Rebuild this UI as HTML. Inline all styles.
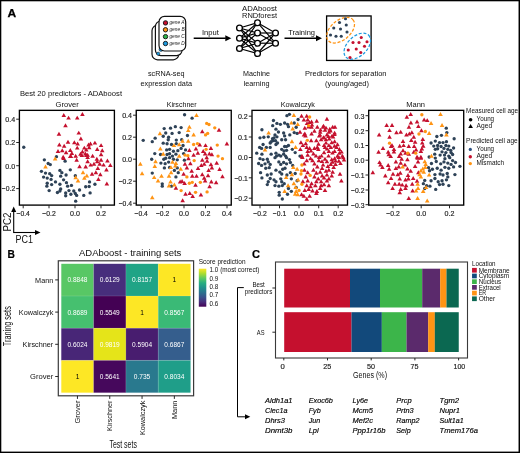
<!DOCTYPE html>
<html lang="en"><head><meta charset="utf-8"><title>Figure</title>
<style>
html,body{margin:0;padding:0;background:#fff;}
body{width:520px;height:453px;overflow:hidden;font-family:"Liberation Sans", "DejaVu Sans", sans-serif;}
svg{display:block;}
</style></head><body>
<svg width="520" height="453" viewBox="0 0 520 453" font-family='"Liberation Sans", "DejaVu Sans", sans-serif' fill="#111">
<rect x="0" y="0" width="520" height="453" fill="#fff"/>
<rect x="0" y="0" width="520" height="1.3" fill="#000"/>
<rect x="0" y="451.6" width="520" height="1.4" fill="#000"/>
<rect x="0" y="0" width="1.3" height="453" fill="#000"/>
<rect x="518.55" y="0" width="1.45" height="453" fill="#000"/>
<text x="7.4" y="17" font-size="10.8" font-weight="bold" textLength="8.7" lengthAdjust="spacingAndGlyphs" fill="#000" stroke="#000" stroke-width="0.25">A</text>
<rect x="152" y="25.2" width="26.7" height="34.6" rx="5.5" ry="5.5" fill="#fff" stroke="#111" stroke-width="1.2"/>
<rect x="155.4" y="21.0" width="26.7" height="34.6" rx="5.5" ry="5.5" fill="#fff" stroke="#111" stroke-width="1.2"/>
<circle cx="158.2" cy="53.7" r="1.6" fill="#1e9be0" stroke="#111" stroke-width="0.5"/>
<circle cx="161" cy="49.4" r="2" fill="#1e9be0" stroke="#111" stroke-width="0.5"/>
<rect x="159" y="16.4" width="26.7" height="34.6" rx="5.5" ry="5.5" fill="#fff" stroke="#111" stroke-width="1.2"/>
<circle cx="165.5" cy="22.9" r="2.2" fill="#c5102e" stroke="#111" stroke-width="0.9"/>
<text x="169.4" y="24.4" font-size="4.8" font-style="italic" textLength="15.2" lengthAdjust="spacingAndGlyphs" fill="#222">gene A</text>
<circle cx="165.5" cy="29.77" r="2.2" fill="#ff9414" stroke="#111" stroke-width="0.9"/>
<text x="169.4" y="31.27" font-size="4.8" font-style="italic" textLength="15.2" lengthAdjust="spacingAndGlyphs" fill="#222">gene B</text>
<circle cx="165.5" cy="36.64" r="2.2" fill="#2db34a" stroke="#111" stroke-width="0.9"/>
<text x="169.4" y="38.14" font-size="4.8" font-style="italic" textLength="15.2" lengthAdjust="spacingAndGlyphs" fill="#222">gene C</text>
<circle cx="165.5" cy="43.51" r="2.2" fill="#1e9be0" stroke="#111" stroke-width="0.9"/>
<text x="169.4" y="45.01" font-size="4.8" font-style="italic" textLength="15.2" lengthAdjust="spacingAndGlyphs" fill="#222">gene D</text>
<line x1="193.7" y1="38.2" x2="225.8" y2="38.2" stroke="#000" stroke-width="1.35"/>
<path d="M231.3 38.2L225.3 35.2L225.3 41.2Z" fill="#000"/>
<text x="202" y="35" font-size="7.5" textLength="16.8" lengthAdjust="spacingAndGlyphs">Input</text>
<line x1="284.5" y1="38.2" x2="316.5" y2="38.2" stroke="#000" stroke-width="1.35"/>
<path d="M322 38.2L316 35.2L316 41.2Z" fill="#000"/>
<text x="288.2" y="35" font-size="7.5" textLength="26.8" lengthAdjust="spacingAndGlyphs">Training</text>
<line x1="239.5" y1="28" x2="257.5" y2="22.7" stroke="#000" stroke-width="1.2"/>
<line x1="239.5" y1="28" x2="257.5" y2="33" stroke="#000" stroke-width="1.2"/>
<line x1="239.5" y1="28" x2="257.5" y2="43.2" stroke="#000" stroke-width="1.2"/>
<line x1="239.5" y1="28" x2="257.5" y2="53.5" stroke="#000" stroke-width="1.2"/>
<line x1="239.5" y1="38.2" x2="257.5" y2="22.7" stroke="#000" stroke-width="1.2"/>
<line x1="239.5" y1="38.2" x2="257.5" y2="33" stroke="#000" stroke-width="1.2"/>
<line x1="239.5" y1="38.2" x2="257.5" y2="43.2" stroke="#000" stroke-width="1.2"/>
<line x1="239.5" y1="38.2" x2="257.5" y2="53.5" stroke="#000" stroke-width="1.2"/>
<line x1="239.5" y1="48.5" x2="257.5" y2="22.7" stroke="#000" stroke-width="1.2"/>
<line x1="239.5" y1="48.5" x2="257.5" y2="33" stroke="#000" stroke-width="1.2"/>
<line x1="239.5" y1="48.5" x2="257.5" y2="43.2" stroke="#000" stroke-width="1.2"/>
<line x1="239.5" y1="48.5" x2="257.5" y2="53.5" stroke="#000" stroke-width="1.2"/>
<line x1="257.5" y1="22.7" x2="275.5" y2="33" stroke="#000" stroke-width="1.2"/>
<line x1="257.5" y1="22.7" x2="275.5" y2="43.2" stroke="#000" stroke-width="1.2"/>
<line x1="257.5" y1="33" x2="275.5" y2="33" stroke="#000" stroke-width="1.2"/>
<line x1="257.5" y1="33" x2="275.5" y2="43.2" stroke="#000" stroke-width="1.2"/>
<line x1="257.5" y1="43.2" x2="275.5" y2="33" stroke="#000" stroke-width="1.2"/>
<line x1="257.5" y1="43.2" x2="275.5" y2="43.2" stroke="#000" stroke-width="1.2"/>
<line x1="257.5" y1="53.5" x2="275.5" y2="33" stroke="#000" stroke-width="1.2"/>
<line x1="257.5" y1="53.5" x2="275.5" y2="43.2" stroke="#000" stroke-width="1.2"/>
<circle cx="239.5" cy="28" r="2.9" fill="#fff" stroke="#000" stroke-width="1.35"/>
<circle cx="239.5" cy="38.2" r="2.9" fill="#fff" stroke="#000" stroke-width="1.35"/>
<circle cx="239.5" cy="48.5" r="2.9" fill="#fff" stroke="#000" stroke-width="1.35"/>
<circle cx="257.5" cy="22.7" r="2.9" fill="#fff" stroke="#000" stroke-width="1.35"/>
<circle cx="257.5" cy="33" r="2.9" fill="#fff" stroke="#000" stroke-width="1.35"/>
<circle cx="257.5" cy="43.2" r="2.9" fill="#fff" stroke="#000" stroke-width="1.35"/>
<circle cx="257.5" cy="53.5" r="2.9" fill="#fff" stroke="#000" stroke-width="1.35"/>
<circle cx="275.5" cy="33" r="2.9" fill="#fff" stroke="#000" stroke-width="1.35"/>
<circle cx="275.5" cy="43.2" r="2.9" fill="#fff" stroke="#000" stroke-width="1.35"/>
<text x="242" y="10.6" font-size="7.5" textLength="35" lengthAdjust="spacingAndGlyphs">ADAboost</text>
<text x="242" y="18.0" font-size="7.5" textLength="35" lengthAdjust="spacingAndGlyphs">RNDforest</text>
<rect x="326.6" y="15.95" width="44.5" height="44.5" fill="#fff" stroke="#000" stroke-width="1.3"/>
<ellipse cx="340.6" cy="30.2" rx="16.2" ry="9.8" fill="none" stroke="#ff9414" stroke-width="1.25" stroke-dasharray="3 1.7" transform="rotate(-40 340.6 30.2)"/>
<ellipse cx="357.3" cy="46.2" rx="15.8" ry="9.8" fill="none" stroke="#1e9be0" stroke-width="1.25" stroke-dasharray="3 1.7" transform="rotate(-44 357.3 46.2)"/>
<circle cx="345.50" cy="18.75" r="1.55" fill="#2e4257"/>
<circle cx="339.50" cy="22.50" r="1.55" fill="#2e4257"/>
<circle cx="333.75" cy="28.00" r="1.55" fill="#2e4257"/>
<circle cx="346.25" cy="25.00" r="1.55" fill="#2e4257"/>
<circle cx="340.50" cy="29.00" r="1.55" fill="#2e4257"/>
<circle cx="347.00" cy="32.00" r="1.55" fill="#2e4257"/>
<circle cx="330.50" cy="35.00" r="1.55" fill="#2e4257"/>
<circle cx="336.00" cy="36.25" r="1.55" fill="#2e4257"/>
<circle cx="341.25" cy="36.25" r="1.55" fill="#2e4257"/>
<circle cx="361.25" cy="37.50" r="1.55" fill="#c5102e"/>
<circle cx="353.00" cy="42.50" r="1.55" fill="#c5102e"/>
<circle cx="359.00" cy="42.50" r="1.55" fill="#c5102e"/>
<circle cx="367.00" cy="41.75" r="1.55" fill="#c5102e"/>
<circle cx="364.50" cy="46.25" r="1.55" fill="#c5102e"/>
<circle cx="348.25" cy="50.00" r="1.55" fill="#c5102e"/>
<circle cx="356.25" cy="49.00" r="1.55" fill="#c5102e"/>
<circle cx="360.75" cy="52.50" r="1.55" fill="#c5102e"/>
<circle cx="350.00" cy="57.50" r="1.55" fill="#c5102e"/>
<text x="148" y="76.2" font-size="7.5" textLength="36.5" lengthAdjust="spacingAndGlyphs">scRNA-seq</text>
<text x="140.5" y="85.8" font-size="7.5" textLength="51.5" lengthAdjust="spacingAndGlyphs">expression data</text>
<text x="243" y="76.2" font-size="7.5" textLength="27" lengthAdjust="spacingAndGlyphs">Machine</text>
<text x="243.7" y="85.8" font-size="7.5" textLength="25.8" lengthAdjust="spacingAndGlyphs">learning</text>
<text x="305" y="76.2" font-size="7.5" textLength="81.5" lengthAdjust="spacingAndGlyphs">Predictors for separation</text>
<text x="325" y="85.8" font-size="7.5" textLength="44" lengthAdjust="spacingAndGlyphs">(young/aged)</text>
<text x="20" y="95.6" font-size="7.5" textLength="102" lengthAdjust="spacingAndGlyphs">Best 20 predictors - ADAboost</text>
<rect x="19.4" y="110.35" width="95.0" height="94.75" fill="#fff" stroke="#000" stroke-width="1.35"/>
<text x="55.5" y="106.8" font-size="7.5" textLength="23.2" lengthAdjust="spacingAndGlyphs">Grover</text>
<line x1="16.2" y1="119.2" x2="19.4" y2="119.2" stroke="#1c1c1c" stroke-width="0.95"/>
<text x="5.3" y="122.0" font-size="7.9" textLength="9.9" lengthAdjust="spacingAndGlyphs" fill="#1c1c1c" stroke="#1c1c1c" stroke-width="0.18">0.4</text>
<line x1="16.2" y1="142.5" x2="19.4" y2="142.5" stroke="#1c1c1c" stroke-width="0.95"/>
<text x="5.3" y="145.3" font-size="7.9" textLength="9.9" lengthAdjust="spacingAndGlyphs" fill="#1c1c1c" stroke="#1c1c1c" stroke-width="0.18">0.2</text>
<line x1="16.2" y1="165.7" x2="19.4" y2="165.7" stroke="#1c1c1c" stroke-width="0.95"/>
<text x="5.3" y="168.5" font-size="7.9" textLength="9.9" lengthAdjust="spacingAndGlyphs" fill="#1c1c1c" stroke="#1c1c1c" stroke-width="0.18">0.0</text>
<line x1="16.2" y1="188.6" x2="19.4" y2="188.6" stroke="#1c1c1c" stroke-width="0.95"/>
<text x="1.8" y="191.4" font-size="7.9" textLength="13.4" lengthAdjust="spacingAndGlyphs" fill="#1c1c1c" stroke="#1c1c1c" stroke-width="0.18">−0.2</text>
<line x1="23.2" y1="205.1" x2="23.2" y2="208.29999999999998" stroke="#1c1c1c" stroke-width="0.95"/>
<text x="16.5" y="216.2" font-size="7.9" textLength="13.4" lengthAdjust="spacingAndGlyphs" fill="#1c1c1c" stroke="#1c1c1c" stroke-width="0.18">−0.4</text>
<line x1="49" y1="205.1" x2="49" y2="208.29999999999998" stroke="#1c1c1c" stroke-width="0.95"/>
<text x="42.3" y="216.2" font-size="7.9" textLength="13.4" lengthAdjust="spacingAndGlyphs" fill="#1c1c1c" stroke="#1c1c1c" stroke-width="0.18">−0.2</text>
<line x1="75" y1="205.1" x2="75" y2="208.29999999999998" stroke="#1c1c1c" stroke-width="0.95"/>
<text x="70.05" y="216.2" font-size="7.9" textLength="9.9" lengthAdjust="spacingAndGlyphs" fill="#1c1c1c" stroke="#1c1c1c" stroke-width="0.18">0.0</text>
<line x1="101" y1="205.1" x2="101" y2="208.29999999999998" stroke="#1c1c1c" stroke-width="0.95"/>
<text x="96.05" y="216.2" font-size="7.9" textLength="9.9" lengthAdjust="spacingAndGlyphs" fill="#1c1c1c" stroke="#1c1c1c" stroke-width="0.18">0.2</text>
<circle cx="23.77" cy="147.23" r="1.68" fill="#2e4257"/>
<circle cx="56.46" cy="156.65" r="1.68" fill="#2e4257"/>
<circle cx="44.35" cy="159.81" r="1.68" fill="#2e4257"/>
<circle cx="48.19" cy="163.46" r="1.68" fill="#2e4257"/>
<circle cx="50.31" cy="164.62" r="1.68" fill="#2e4257"/>
<circle cx="65.12" cy="161.15" r="1.68" fill="#2e4257"/>
<circle cx="41.46" cy="171.35" r="1.68" fill="#2e4257"/>
<circle cx="45.50" cy="173.08" r="1.68" fill="#2e4257"/>
<circle cx="49.73" cy="173.65" r="1.68" fill="#2e4257"/>
<circle cx="51.65" cy="175.58" r="1.68" fill="#2e4257"/>
<circle cx="43.58" cy="177.12" r="1.68" fill="#2e4257"/>
<circle cx="47.23" cy="178.08" r="1.68" fill="#2e4257"/>
<circle cx="51.08" cy="179.42" r="1.68" fill="#2e4257"/>
<circle cx="47.23" cy="183.27" r="1.68" fill="#2e4257"/>
<circle cx="51.65" cy="184.62" r="1.68" fill="#2e4257"/>
<circle cx="46.85" cy="186.15" r="1.68" fill="#2e4257"/>
<circle cx="59.92" cy="170.38" r="1.68" fill="#2e4257"/>
<circle cx="61.85" cy="172.69" r="1.68" fill="#2e4257"/>
<circle cx="60.69" cy="176.15" r="1.68" fill="#2e4257"/>
<circle cx="66.08" cy="175.00" r="1.68" fill="#2e4257"/>
<circle cx="70.31" cy="169.81" r="1.68" fill="#2e4257"/>
<circle cx="75.31" cy="175.77" r="1.68" fill="#2e4257"/>
<circle cx="63.58" cy="179.81" r="1.68" fill="#2e4257"/>
<circle cx="55.50" cy="181.92" r="1.68" fill="#2e4257"/>
<circle cx="59.92" cy="184.23" r="1.68" fill="#2e4257"/>
<circle cx="66.46" cy="182.69" r="1.68" fill="#2e4257"/>
<circle cx="67.62" cy="186.15" r="1.68" fill="#2e4257"/>
<circle cx="71.46" cy="185.38" r="1.68" fill="#2e4257"/>
<circle cx="85.69" cy="186.73" r="1.68" fill="#2e4257"/>
<circle cx="89.15" cy="186.54" r="1.68" fill="#2e4257"/>
<circle cx="89.54" cy="181.92" r="1.68" fill="#2e4257"/>
<circle cx="94.92" cy="184.23" r="1.68" fill="#2e4257"/>
<circle cx="49.15" cy="190.58" r="1.68" fill="#2e4257"/>
<circle cx="57.42" cy="192.50" r="1.68" fill="#2e4257"/>
<circle cx="60.69" cy="189.04" r="1.68" fill="#2e4257"/>
<circle cx="59.92" cy="190.96" r="1.68" fill="#2e4257"/>
<circle cx="65.69" cy="192.88" r="1.68" fill="#2e4257"/>
<circle cx="65.69" cy="195.77" r="1.68" fill="#2e4257"/>
<circle cx="68.96" cy="190.58" r="1.68" fill="#2e4257"/>
<circle cx="70.88" cy="194.23" r="1.68" fill="#2e4257"/>
<circle cx="73.77" cy="190.96" r="1.68" fill="#2e4257"/>
<circle cx="75.31" cy="193.46" r="1.68" fill="#2e4257"/>
<circle cx="76.65" cy="195.38" r="1.68" fill="#2e4257"/>
<circle cx="79.54" cy="190.00" r="1.68" fill="#2e4257"/>
<circle cx="83.77" cy="195.38" r="1.68" fill="#2e4257"/>
<circle cx="90.12" cy="192.88" r="1.68" fill="#2e4257"/>
<circle cx="75.69" cy="201.15" r="1.68" fill="#2e4257"/>
<path d="M63.77 112.95L66.06 116.93L61.48 116.93Z" fill="#c5102e"/>
<path d="M68.58 115.64L70.88 119.62L66.28 119.62Z" fill="#c5102e"/>
<path d="M77.23 115.64L79.53 119.62L74.94 119.62Z" fill="#c5102e"/>
<path d="M82.42 111.99L84.72 115.97L80.12 115.97Z" fill="#c5102e"/>
<path d="M65.50 123.33L67.80 127.31L63.20 127.31Z" fill="#c5102e"/>
<path d="M58.96 131.79L61.26 135.77L56.66 135.77Z" fill="#c5102e"/>
<path d="M78.77 130.64L81.06 134.62L76.47 134.62Z" fill="#c5102e"/>
<path d="M80.88 136.41L83.17 140.39L78.58 140.39Z" fill="#c5102e"/>
<path d="M59.35 142.56L61.65 146.54L57.05 146.54Z" fill="#c5102e"/>
<path d="M64.15 143.72L66.45 147.70L61.86 147.70Z" fill="#c5102e"/>
<path d="M68.00 139.87L70.30 143.85L65.70 143.85Z" fill="#c5102e"/>
<path d="M74.35 140.26L76.64 144.24L72.05 144.24Z" fill="#c5102e"/>
<path d="M77.62 141.41L79.92 145.39L75.33 145.39Z" fill="#c5102e"/>
<path d="M94.92 140.64L97.22 144.62L92.62 144.62Z" fill="#c5102e"/>
<path d="M90.50 141.41L92.80 145.39L88.20 145.39Z" fill="#c5102e"/>
<path d="M88.58 142.56L90.88 146.54L86.28 146.54Z" fill="#c5102e"/>
<path d="M101.08 143.14L103.38 147.12L98.78 147.12Z" fill="#c5102e"/>
<path d="M58.00 149.10L60.30 153.08L55.70 153.08Z" fill="#c5102e"/>
<path d="M62.23 148.33L64.52 152.31L59.93 152.31Z" fill="#c5102e"/>
<path d="M66.08 150.26L68.38 154.24L63.78 154.24Z" fill="#c5102e"/>
<path d="M70.31 147.95L72.61 151.93L68.02 151.93Z" fill="#c5102e"/>
<path d="M71.85 151.02L74.14 155.00L69.55 155.00Z" fill="#c5102e"/>
<path d="M77.23 145.64L79.53 149.62L74.94 149.62Z" fill="#c5102e"/>
<path d="M84.35 145.64L86.64 149.62L82.05 149.62Z" fill="#c5102e"/>
<path d="M89.15 145.26L91.45 149.24L86.86 149.24Z" fill="#c5102e"/>
<path d="M86.27 147.56L88.56 151.54L83.97 151.54Z" fill="#c5102e"/>
<path d="M82.42 149.49L84.72 153.47L80.12 153.47Z" fill="#c5102e"/>
<path d="M80.50 151.79L82.80 155.77L78.20 155.77Z" fill="#c5102e"/>
<path d="M85.31 151.41L87.61 155.39L83.02 155.39Z" fill="#c5102e"/>
<path d="M87.62 152.76L89.92 156.74L85.33 156.74Z" fill="#c5102e"/>
<path d="M97.23 146.99L99.53 150.97L94.94 150.97Z" fill="#c5102e"/>
<path d="M102.23 148.33L104.53 152.31L99.94 152.31Z" fill="#c5102e"/>
<path d="M101.08 152.18L103.38 156.16L98.78 156.16Z" fill="#c5102e"/>
<path d="M92.62 153.72L94.92 157.70L90.33 157.70Z" fill="#c5102e"/>
<path d="M75.69 153.72L77.98 157.70L73.39 157.70Z" fill="#c5102e"/>
<path d="M70.31 154.10L72.61 158.08L68.02 158.08Z" fill="#c5102e"/>
<path d="M63.19 154.68L65.48 158.66L60.89 158.66Z" fill="#c5102e"/>
<path d="M63.58 155.91L65.88 159.89L61.28 159.89Z" fill="#c5102e"/>
<path d="M70.88 153.99L73.17 157.97L68.58 157.97Z" fill="#c5102e"/>
<path d="M76.65 157.83L78.95 161.81L74.36 161.81Z" fill="#c5102e"/>
<path d="M79.54 164.18L81.84 168.16L77.25 168.16Z" fill="#c5102e"/>
<path d="M81.85 153.02L84.14 157.00L79.55 157.00Z" fill="#c5102e"/>
<path d="M86.27 153.02L88.56 157.00L83.97 157.00Z" fill="#c5102e"/>
<path d="M87.62 154.95L89.92 158.93L85.33 158.93Z" fill="#c5102e"/>
<path d="M96.85 156.87L99.14 160.85L94.55 160.85Z" fill="#c5102e"/>
<path d="M101.08 157.83L103.38 161.81L98.78 161.81Z" fill="#c5102e"/>
<path d="M97.23 159.18L99.53 163.16L94.94 163.16Z" fill="#c5102e"/>
<path d="M87.62 159.18L89.92 163.16L85.33 163.16Z" fill="#c5102e"/>
<path d="M93.96 161.68L96.25 165.66L91.66 165.66Z" fill="#c5102e"/>
<path d="M90.69 162.64L92.98 166.62L88.39 166.62Z" fill="#c5102e"/>
<path d="M85.69 164.56L87.98 168.54L83.39 168.54Z" fill="#c5102e"/>
<path d="M99.73 161.68L102.03 165.66L97.44 165.66Z" fill="#c5102e"/>
<path d="M103.58 162.64L105.88 166.62L101.28 166.62Z" fill="#c5102e"/>
<path d="M107.42 158.41L109.72 162.39L105.12 162.39Z" fill="#c5102e"/>
<path d="M110.31 163.02L112.61 167.00L108.02 167.00Z" fill="#c5102e"/>
<path d="M97.81 166.10L100.11 170.08L95.52 170.08Z" fill="#c5102e"/>
<path d="M106.46 167.45L108.75 171.43L104.16 171.43Z" fill="#c5102e"/>
<path d="M95.88 170.33L98.17 174.31L93.58 174.31Z" fill="#c5102e"/>
<path d="M92.04 171.87L94.34 175.85L89.75 175.85Z" fill="#c5102e"/>
<path d="M100.31 172.26L102.61 176.24L98.02 176.24Z" fill="#c5102e"/>
<path d="M98.38 177.06L100.67 181.04L96.08 181.04Z" fill="#c5102e"/>
<path d="M106.85 181.49L109.14 185.47L104.55 185.47Z" fill="#c5102e"/>
<path d="M55.12 156.49L57.41 160.47L52.82 160.47Z" fill="#ff9414"/>
<path d="M45.50 164.56L47.80 168.54L43.20 168.54Z" fill="#ff9414"/>
<path d="M83.00 170.33L85.30 174.31L80.70 174.31Z" fill="#ff9414"/>
<path d="M86.85 173.41L89.14 177.39L84.55 177.39Z" fill="#ff9414"/>
<path d="M84.35 175.72L86.64 179.70L82.05 179.70Z" fill="#ff9414"/>
<path d="M75.69 175.33L77.98 179.31L73.39 179.31Z" fill="#ff9414"/>
<path d="M78.00 178.60L80.30 182.58L75.70 182.58Z" fill="#ff9414"/>
<rect x="136.25" y="110.35" width="95.0" height="94.75" fill="#fff" stroke="#000" stroke-width="1.35"/>
<text x="166.7" y="106.8" font-size="7.5" textLength="30.0" lengthAdjust="spacingAndGlyphs">Kirschner</text>
<line x1="133.05" y1="115.2" x2="136.25" y2="115.2" stroke="#1c1c1c" stroke-width="0.95"/>
<text x="122.15" y="118.0" font-size="7.9" textLength="9.9" lengthAdjust="spacingAndGlyphs" fill="#1c1c1c" stroke="#1c1c1c" stroke-width="0.18">0.4</text>
<line x1="133.05" y1="137.2" x2="136.25" y2="137.2" stroke="#1c1c1c" stroke-width="0.95"/>
<text x="122.15" y="140.0" font-size="7.9" textLength="9.9" lengthAdjust="spacingAndGlyphs" fill="#1c1c1c" stroke="#1c1c1c" stroke-width="0.18">0.2</text>
<line x1="133.05" y1="159.2" x2="136.25" y2="159.2" stroke="#1c1c1c" stroke-width="0.95"/>
<text x="122.15" y="162.0" font-size="7.9" textLength="9.9" lengthAdjust="spacingAndGlyphs" fill="#1c1c1c" stroke="#1c1c1c" stroke-width="0.18">0.0</text>
<line x1="133.05" y1="181.2" x2="136.25" y2="181.2" stroke="#1c1c1c" stroke-width="0.95"/>
<text x="118.65" y="184.0" font-size="7.9" textLength="13.4" lengthAdjust="spacingAndGlyphs" fill="#1c1c1c" stroke="#1c1c1c" stroke-width="0.18">−0.2</text>
<line x1="133.05" y1="203.2" x2="136.25" y2="203.2" stroke="#1c1c1c" stroke-width="0.95"/>
<text x="118.65" y="206.0" font-size="7.9" textLength="13.4" lengthAdjust="spacingAndGlyphs" fill="#1c1c1c" stroke="#1c1c1c" stroke-width="0.18">−0.4</text>
<line x1="141.2" y1="205.1" x2="141.2" y2="208.29999999999998" stroke="#1c1c1c" stroke-width="0.95"/>
<text x="134.5" y="216.2" font-size="7.9" textLength="13.4" lengthAdjust="spacingAndGlyphs" fill="#1c1c1c" stroke="#1c1c1c" stroke-width="0.18">−0.4</text>
<line x1="162.6" y1="205.1" x2="162.6" y2="208.29999999999998" stroke="#1c1c1c" stroke-width="0.95"/>
<text x="155.9" y="216.2" font-size="7.9" textLength="13.4" lengthAdjust="spacingAndGlyphs" fill="#1c1c1c" stroke="#1c1c1c" stroke-width="0.18">−0.2</text>
<line x1="184" y1="205.1" x2="184" y2="208.29999999999998" stroke="#1c1c1c" stroke-width="0.95"/>
<text x="179.05" y="216.2" font-size="7.9" textLength="9.9" lengthAdjust="spacingAndGlyphs" fill="#1c1c1c" stroke="#1c1c1c" stroke-width="0.18">0.0</text>
<line x1="205.5" y1="205.1" x2="205.5" y2="208.29999999999998" stroke="#1c1c1c" stroke-width="0.95"/>
<text x="200.55" y="216.2" font-size="7.9" textLength="9.9" lengthAdjust="spacingAndGlyphs" fill="#1c1c1c" stroke="#1c1c1c" stroke-width="0.18">0.2</text>
<line x1="227" y1="205.1" x2="227" y2="208.29999999999998" stroke="#1c1c1c" stroke-width="0.95"/>
<text x="222.05" y="216.2" font-size="7.9" textLength="9.9" lengthAdjust="spacingAndGlyphs" fill="#1c1c1c" stroke="#1c1c1c" stroke-width="0.18">0.4</text>
<circle cx="184.58" cy="114.73" r="1.68" fill="#2e4257"/>
<circle cx="192.08" cy="118.19" r="1.68" fill="#2e4257"/>
<circle cx="164.19" cy="128.58" r="1.68" fill="#2e4257"/>
<circle cx="170.54" cy="128.19" r="1.68" fill="#2e4257"/>
<circle cx="175.35" cy="126.65" r="1.68" fill="#2e4257"/>
<circle cx="181.12" cy="127.62" r="1.68" fill="#2e4257"/>
<circle cx="165.73" cy="133.00" r="1.68" fill="#2e4257"/>
<circle cx="172.08" cy="133.38" r="1.68" fill="#2e4257"/>
<circle cx="179.19" cy="132.62" r="1.68" fill="#2e4257"/>
<circle cx="187.46" cy="135.50" r="1.68" fill="#2e4257"/>
<circle cx="163.23" cy="136.27" r="1.68" fill="#2e4257"/>
<circle cx="168.62" cy="137.23" r="1.68" fill="#2e4257"/>
<circle cx="168.23" cy="139.73" r="1.68" fill="#2e4257"/>
<circle cx="155.15" cy="138.19" r="1.68" fill="#2e4257"/>
<circle cx="152.27" cy="141.65" r="1.68" fill="#2e4257"/>
<circle cx="143.23" cy="140.31" r="1.68" fill="#2e4257"/>
<circle cx="176.31" cy="140.12" r="1.68" fill="#2e4257"/>
<circle cx="181.69" cy="139.73" r="1.68" fill="#2e4257"/>
<circle cx="163.23" cy="143.19" r="1.68" fill="#2e4257"/>
<circle cx="167.08" cy="143.77" r="1.68" fill="#2e4257"/>
<circle cx="171.50" cy="144.54" r="1.68" fill="#2e4257"/>
<circle cx="176.31" cy="143.58" r="1.68" fill="#2e4257"/>
<circle cx="183.04" cy="145.50" r="1.68" fill="#2e4257"/>
<circle cx="181.12" cy="148.38" r="1.68" fill="#2e4257"/>
<circle cx="177.85" cy="150.69" r="1.68" fill="#2e4257"/>
<circle cx="173.42" cy="151.27" r="1.68" fill="#2e4257"/>
<circle cx="169.58" cy="149.35" r="1.68" fill="#2e4257"/>
<circle cx="166.69" cy="149.92" r="1.68" fill="#2e4257"/>
<circle cx="185.54" cy="149.92" r="1.68" fill="#2e4257"/>
<circle cx="154.77" cy="153.58" r="1.68" fill="#2e4257"/>
<circle cx="160.54" cy="154.54" r="1.68" fill="#2e4257"/>
<circle cx="167.08" cy="154.54" r="1.68" fill="#2e4257"/>
<circle cx="169.58" cy="153.77" r="1.68" fill="#2e4257"/>
<circle cx="175.92" cy="154.15" r="1.68" fill="#2e4257"/>
<circle cx="183.62" cy="153.58" r="1.68" fill="#2e4257"/>
<circle cx="172.46" cy="156.08" r="1.68" fill="#2e4257"/>
<circle cx="151.69" cy="159.23" r="1.68" fill="#2e4257"/>
<circle cx="163.81" cy="159.23" r="1.68" fill="#2e4257"/>
<circle cx="165.73" cy="158.27" r="1.68" fill="#2e4257"/>
<circle cx="169.58" cy="157.69" r="1.68" fill="#2e4257"/>
<circle cx="173.42" cy="159.23" r="1.68" fill="#2e4257"/>
<circle cx="177.27" cy="159.81" r="1.68" fill="#2e4257"/>
<circle cx="184.38" cy="160.19" r="1.68" fill="#2e4257"/>
<circle cx="160.92" cy="163.08" r="1.68" fill="#2e4257"/>
<circle cx="165.15" cy="163.65" r="1.68" fill="#2e4257"/>
<circle cx="168.62" cy="162.12" r="1.68" fill="#2e4257"/>
<circle cx="164.38" cy="167.88" r="1.68" fill="#2e4257"/>
<circle cx="169.58" cy="167.50" r="1.68" fill="#2e4257"/>
<circle cx="174.38" cy="170.38" r="1.68" fill="#2e4257"/>
<circle cx="177.27" cy="167.88" r="1.68" fill="#2e4257"/>
<circle cx="152.27" cy="173.08" r="1.68" fill="#2e4257"/>
<circle cx="178.23" cy="172.69" r="1.68" fill="#2e4257"/>
<circle cx="175.92" cy="176.92" r="1.68" fill="#2e4257"/>
<circle cx="162.27" cy="183.85" r="1.68" fill="#2e4257"/>
<circle cx="162.27" cy="186.15" r="1.68" fill="#2e4257"/>
<circle cx="171.50" cy="186.15" r="1.68" fill="#2e4257"/>
<path d="M202.27 129.29L204.56 133.27L199.98 133.27Z" fill="#c5102e"/>
<path d="M219.00 127.76L221.29 131.74L216.71 131.74Z" fill="#c5102e"/>
<path d="M226.88 141.41L229.17 145.39L224.59 145.39Z" fill="#c5102e"/>
<path d="M199.77 142.56L202.06 146.54L197.48 146.54Z" fill="#c5102e"/>
<path d="M205.54 143.14L207.83 147.12L203.25 147.12Z" fill="#c5102e"/>
<path d="M210.92 146.02L213.21 150.00L208.62 150.00Z" fill="#c5102e"/>
<path d="M195.92 146.60L198.21 150.58L193.62 150.58Z" fill="#c5102e"/>
<path d="M189.38 147.95L191.67 151.93L187.09 151.93Z" fill="#c5102e"/>
<path d="M197.85 150.83L200.14 154.81L195.56 154.81Z" fill="#c5102e"/>
<path d="M203.23 148.91L205.52 152.89L200.94 152.89Z" fill="#c5102e"/>
<path d="M205.15 151.41L207.44 155.39L202.86 155.39Z" fill="#c5102e"/>
<path d="M209.38 151.41L211.67 155.39L207.09 155.39Z" fill="#c5102e"/>
<path d="M211.88 152.37L214.17 156.35L209.59 156.35Z" fill="#c5102e"/>
<path d="M193.62 152.76L195.91 156.74L191.33 156.74Z" fill="#c5102e"/>
<path d="M188.42 156.29L190.71 160.27L186.12 160.27Z" fill="#c5102e"/>
<path d="M184.96 161.68L187.25 165.66L182.67 165.66Z" fill="#c5102e"/>
<path d="M190.35 161.29L192.64 165.27L188.06 165.27Z" fill="#c5102e"/>
<path d="M186.88 165.52L189.17 169.50L184.59 169.50Z" fill="#c5102e"/>
<path d="M183.62 171.87L185.91 175.85L181.33 175.85Z" fill="#c5102e"/>
<path d="M191.69 168.79L193.98 172.77L189.40 172.77Z" fill="#c5102e"/>
<path d="M192.27 173.79L194.56 177.77L189.98 177.77Z" fill="#c5102e"/>
<path d="M196.50 173.79L198.79 177.77L194.21 177.77Z" fill="#c5102e"/>
<path d="M198.04 165.91L200.33 169.89L195.75 169.89Z" fill="#c5102e"/>
<path d="M201.31 163.02L203.60 167.00L199.02 167.00Z" fill="#c5102e"/>
<path d="M204.19 161.68L206.48 165.66L201.90 165.66Z" fill="#c5102e"/>
<path d="M207.08 158.79L209.38 162.77L204.79 162.77Z" fill="#c5102e"/>
<path d="M202.27 157.83L204.56 161.81L199.98 161.81Z" fill="#c5102e"/>
<path d="M206.69 155.33L208.98 159.31L204.40 159.31Z" fill="#c5102e"/>
<path d="M210.92 162.26L213.21 166.24L208.62 166.24Z" fill="#c5102e"/>
<path d="M216.69 160.72L218.98 164.70L214.40 164.70Z" fill="#c5102e"/>
<path d="M211.88 165.52L214.17 169.50L209.59 169.50Z" fill="#c5102e"/>
<path d="M208.62 168.02L210.91 172.00L206.33 172.00Z" fill="#c5102e"/>
<path d="M219.58 167.06L221.88 171.04L217.29 171.04Z" fill="#c5102e"/>
<path d="M202.27 172.26L204.56 176.24L199.98 176.24Z" fill="#c5102e"/>
<path d="M208.04 173.22L210.33 177.20L205.75 177.20Z" fill="#c5102e"/>
<path d="M222.46 174.18L224.75 178.16L220.17 178.16Z" fill="#c5102e"/>
<path d="M205.15 178.60L207.44 182.58L202.86 182.58Z" fill="#c5102e"/>
<path d="M211.31 179.56L213.60 183.54L209.02 183.54Z" fill="#c5102e"/>
<path d="M216.12 180.33L218.41 184.31L213.83 184.31Z" fill="#c5102e"/>
<path d="M195.54 182.83L197.83 186.81L193.25 186.81Z" fill="#c5102e"/>
<path d="M209.58 184.37L211.88 188.35L207.29 188.35Z" fill="#c5102e"/>
<path d="M180.15 179.56L182.44 183.54L177.86 183.54Z" fill="#c5102e"/>
<path d="M182.08 178.99L184.38 182.97L179.79 182.97Z" fill="#c5102e"/>
<path d="M184.58 180.91L186.88 184.89L182.29 184.89Z" fill="#c5102e"/>
<path d="M175.92 185.72L178.21 189.70L173.62 189.70Z" fill="#c5102e"/>
<path d="M204.19 175.72L206.48 179.70L201.90 179.70Z" fill="#c5102e"/>
<path d="M185.54 191.87L187.83 195.85L183.25 195.85Z" fill="#c5102e"/>
<path d="M189.77 191.10L192.06 195.08L187.48 195.08Z" fill="#c5102e"/>
<path d="M192.65 193.99L194.94 197.97L190.36 197.97Z" fill="#c5102e"/>
<path d="M200.92 192.45L203.21 196.43L198.62 196.43Z" fill="#c5102e"/>
<path d="M182.65 198.22L184.94 202.20L180.36 202.20Z" fill="#c5102e"/>
<path d="M196.50 112.95L198.79 116.93L194.21 116.93Z" fill="#ff9414"/>
<path d="M189.38 124.87L191.67 128.85L187.09 128.85Z" fill="#ff9414"/>
<path d="M188.23 128.14L190.52 132.12L185.94 132.12Z" fill="#ff9414"/>
<path d="M193.62 132.56L195.91 136.54L191.33 136.54Z" fill="#ff9414"/>
<path d="M159.96 131.22L162.25 135.20L157.67 135.20Z" fill="#ff9414"/>
<path d="M188.23 138.72L190.52 142.70L185.94 142.70Z" fill="#ff9414"/>
<path d="M182.46 138.72L184.75 142.70L180.17 142.70Z" fill="#ff9414"/>
<path d="M174.00 143.14L176.29 147.12L171.71 147.12Z" fill="#ff9414"/>
<path d="M179.19 142.18L181.48 146.16L176.90 146.16Z" fill="#ff9414"/>
<path d="M160.35 146.60L162.64 150.58L158.06 150.58Z" fill="#ff9414"/>
<path d="M163.23 151.79L165.52 155.77L160.94 155.77Z" fill="#ff9414"/>
<path d="M179.19 153.72L181.48 157.70L176.90 157.70Z" fill="#ff9414"/>
<circle cx="206.69" cy="123.38" r="1.68" fill="#ff9414"/>
<circle cx="209.00" cy="124.54" r="1.68" fill="#ff9414"/>
<circle cx="214.77" cy="127.81" r="1.68" fill="#ff9414"/>
<circle cx="207.65" cy="133.38" r="1.68" fill="#ff9414"/>
<circle cx="205.54" cy="134.92" r="1.68" fill="#ff9414"/>
<circle cx="197.46" cy="143.58" r="1.68" fill="#ff9414"/>
<circle cx="193.62" cy="144.54" r="1.68" fill="#ff9414"/>
<circle cx="217.27" cy="145.12" r="1.68" fill="#ff9414"/>
<circle cx="206.12" cy="149.35" r="1.68" fill="#ff9414"/>
<circle cx="218.04" cy="156.08" r="1.68" fill="#ff9414"/>
<circle cx="187.85" cy="155.69" r="1.68" fill="#ff9414"/>
<circle cx="184.96" cy="155.12" r="1.68" fill="#ff9414"/>
<path d="M140.35 161.68L142.64 165.66L138.06 165.66Z" fill="#ff9414"/>
<path d="M155.54 159.37L157.83 163.35L153.25 163.35Z" fill="#ff9414"/>
<path d="M154.77 163.99L157.06 167.97L152.48 167.97Z" fill="#ff9414"/>
<path d="M142.08 171.29L144.38 175.27L139.79 175.27Z" fill="#ff9414"/>
<path d="M172.46 159.76L174.75 163.74L170.17 163.74Z" fill="#ff9414"/>
<path d="M175.92 161.10L178.21 165.08L173.62 165.08Z" fill="#ff9414"/>
<path d="M175.35 163.60L177.64 167.58L173.06 167.58Z" fill="#ff9414"/>
<path d="M170.92 165.14L173.21 169.12L168.62 169.12Z" fill="#ff9414"/>
<path d="M180.73 166.87L183.02 170.85L178.44 170.85Z" fill="#ff9414"/>
<path d="M171.12 170.33L173.41 174.31L168.83 174.31Z" fill="#ff9414"/>
<path d="M161.50 173.79L163.79 177.77L159.21 177.77Z" fill="#ff9414"/>
<path d="M169.00 173.79L171.29 177.77L166.71 177.77Z" fill="#ff9414"/>
<path d="M154.19 175.14L156.48 179.12L151.90 179.12Z" fill="#ff9414"/>
<path d="M158.04 178.60L160.33 182.58L155.75 182.58Z" fill="#ff9414"/>
<path d="M170.54 179.56L172.83 183.54L168.25 183.54Z" fill="#ff9414"/>
<path d="M169.00 183.41L171.29 187.39L166.71 187.39Z" fill="#ff9414"/>
<path d="M174.38 182.45L176.67 186.43L172.09 186.43Z" fill="#ff9414"/>
<circle cx="194.19" cy="160.58" r="1.68" fill="#ff9414"/>
<circle cx="222.46" cy="158.65" r="1.68" fill="#ff9414"/>
<circle cx="186.88" cy="176.92" r="1.68" fill="#ff9414"/>
<circle cx="192.27" cy="182.31" r="1.68" fill="#ff9414"/>
<circle cx="189.38" cy="183.27" r="1.68" fill="#ff9414"/>
<circle cx="200.35" cy="182.31" r="1.68" fill="#ff9414"/>
<circle cx="181.12" cy="190.58" r="1.68" fill="#ff9414"/>
<circle cx="195.54" cy="192.31" r="1.68" fill="#ff9414"/>
<circle cx="207.08" cy="191.92" r="1.68" fill="#ff9414"/>
<path d="M152.27 195.33L154.56 199.31L149.98 199.31Z" fill="#ff9414"/>
<rect x="252" y="110.35" width="95.5" height="94.75" fill="#fff" stroke="#000" stroke-width="1.35"/>
<text x="280.7" y="106.8" font-size="7.5" textLength="34.3" lengthAdjust="spacingAndGlyphs">Kowalczyk</text>
<line x1="248.8" y1="116.2" x2="252" y2="116.2" stroke="#1c1c1c" stroke-width="0.95"/>
<text x="237.9" y="119.0" font-size="7.9" textLength="9.9" lengthAdjust="spacingAndGlyphs" fill="#1c1c1c" stroke="#1c1c1c" stroke-width="0.18">0.2</text>
<line x1="248.8" y1="137" x2="252" y2="137" stroke="#1c1c1c" stroke-width="0.95"/>
<text x="237.9" y="139.8" font-size="7.9" textLength="9.9" lengthAdjust="spacingAndGlyphs" fill="#1c1c1c" stroke="#1c1c1c" stroke-width="0.18">0.1</text>
<line x1="248.8" y1="157.5" x2="252" y2="157.5" stroke="#1c1c1c" stroke-width="0.95"/>
<text x="237.9" y="160.3" font-size="7.9" textLength="9.9" lengthAdjust="spacingAndGlyphs" fill="#1c1c1c" stroke="#1c1c1c" stroke-width="0.18">0.0</text>
<line x1="248.8" y1="177.8" x2="252" y2="177.8" stroke="#1c1c1c" stroke-width="0.95"/>
<text x="234.4" y="180.6" font-size="7.9" textLength="13.4" lengthAdjust="spacingAndGlyphs" fill="#1c1c1c" stroke="#1c1c1c" stroke-width="0.18">−0.1</text>
<line x1="248.8" y1="198.2" x2="252" y2="198.2" stroke="#1c1c1c" stroke-width="0.95"/>
<text x="234.4" y="201.0" font-size="7.9" textLength="13.4" lengthAdjust="spacingAndGlyphs" fill="#1c1c1c" stroke="#1c1c1c" stroke-width="0.18">−0.2</text>
<line x1="260" y1="205.1" x2="260" y2="208.29999999999998" stroke="#1c1c1c" stroke-width="0.95"/>
<text x="253.3" y="216.2" font-size="7.9" textLength="13.4" lengthAdjust="spacingAndGlyphs" fill="#1c1c1c" stroke="#1c1c1c" stroke-width="0.18">−0.2</text>
<line x1="279.5" y1="205.1" x2="279.5" y2="208.29999999999998" stroke="#1c1c1c" stroke-width="0.95"/>
<text x="272.8" y="216.2" font-size="7.9" textLength="13.4" lengthAdjust="spacingAndGlyphs" fill="#1c1c1c" stroke="#1c1c1c" stroke-width="0.18">−0.1</text>
<line x1="299" y1="205.1" x2="299" y2="208.29999999999998" stroke="#1c1c1c" stroke-width="0.95"/>
<text x="294.05" y="216.2" font-size="7.9" textLength="9.9" lengthAdjust="spacingAndGlyphs" fill="#1c1c1c" stroke="#1c1c1c" stroke-width="0.18">0.0</text>
<line x1="318.7" y1="205.1" x2="318.7" y2="208.29999999999998" stroke="#1c1c1c" stroke-width="0.95"/>
<text x="313.75" y="216.2" font-size="7.9" textLength="9.9" lengthAdjust="spacingAndGlyphs" fill="#1c1c1c" stroke="#1c1c1c" stroke-width="0.18">0.1</text>
<line x1="338.2" y1="205.1" x2="338.2" y2="208.29999999999998" stroke="#1c1c1c" stroke-width="0.95"/>
<text x="333.25" y="216.2" font-size="7.9" textLength="9.9" lengthAdjust="spacingAndGlyphs" fill="#1c1c1c" stroke="#1c1c1c" stroke-width="0.18">0.2</text>
<circle cx="286.92" cy="115.69" r="1.68" fill="#2e4257"/>
<circle cx="289.42" cy="114.35" r="1.68" fill="#2e4257"/>
<circle cx="273.46" cy="120.50" r="1.68" fill="#2e4257"/>
<circle cx="276.92" cy="123.38" r="1.68" fill="#2e4257"/>
<circle cx="280.38" cy="124.35" r="1.68" fill="#2e4257"/>
<circle cx="284.62" cy="123.00" r="1.68" fill="#2e4257"/>
<circle cx="287.50" cy="124.35" r="1.68" fill="#2e4257"/>
<circle cx="288.46" cy="126.65" r="1.68" fill="#2e4257"/>
<circle cx="272.69" cy="125.69" r="1.68" fill="#2e4257"/>
<circle cx="261.92" cy="129.73" r="1.68" fill="#2e4257"/>
<circle cx="275.96" cy="129.15" r="1.68" fill="#2e4257"/>
<circle cx="278.46" cy="132.04" r="1.68" fill="#2e4257"/>
<circle cx="283.65" cy="133.00" r="1.68" fill="#2e4257"/>
<circle cx="294.23" cy="132.62" r="1.68" fill="#2e4257"/>
<circle cx="297.12" cy="133.38" r="1.68" fill="#2e4257"/>
<circle cx="296.15" cy="127.23" r="1.68" fill="#2e4257"/>
<circle cx="298.08" cy="119.54" r="1.68" fill="#2e4257"/>
<circle cx="294.23" cy="123.00" r="1.68" fill="#2e4257"/>
<circle cx="260.00" cy="137.81" r="1.68" fill="#2e4257"/>
<circle cx="263.85" cy="137.23" r="1.68" fill="#2e4257"/>
<circle cx="268.27" cy="136.85" r="1.68" fill="#2e4257"/>
<circle cx="275.00" cy="134.92" r="1.68" fill="#2e4257"/>
<circle cx="274.04" cy="137.81" r="1.68" fill="#2e4257"/>
<circle cx="276.92" cy="136.85" r="1.68" fill="#2e4257"/>
<circle cx="284.62" cy="135.88" r="1.68" fill="#2e4257"/>
<circle cx="289.81" cy="134.92" r="1.68" fill="#2e4257"/>
<circle cx="285.58" cy="139.73" r="1.68" fill="#2e4257"/>
<circle cx="281.73" cy="139.73" r="1.68" fill="#2e4257"/>
<circle cx="273.08" cy="140.69" r="1.68" fill="#2e4257"/>
<circle cx="270.19" cy="143.00" r="1.68" fill="#2e4257"/>
<circle cx="263.08" cy="144.54" r="1.68" fill="#2e4257"/>
<circle cx="259.62" cy="147.42" r="1.68" fill="#2e4257"/>
<circle cx="261.54" cy="148.38" r="1.68" fill="#2e4257"/>
<circle cx="266.35" cy="147.42" r="1.68" fill="#2e4257"/>
<circle cx="275.96" cy="144.54" r="1.68" fill="#2e4257"/>
<circle cx="270.19" cy="147.42" r="1.68" fill="#2e4257"/>
<circle cx="284.62" cy="146.46" r="1.68" fill="#2e4257"/>
<circle cx="288.46" cy="145.50" r="1.68" fill="#2e4257"/>
<circle cx="281.73" cy="149.35" r="1.68" fill="#2e4257"/>
<circle cx="286.54" cy="150.31" r="1.68" fill="#2e4257"/>
<circle cx="292.31" cy="149.35" r="1.68" fill="#2e4257"/>
<circle cx="295.19" cy="152.62" r="1.68" fill="#2e4257"/>
<circle cx="256.73" cy="153.19" r="1.68" fill="#2e4257"/>
<circle cx="261.92" cy="154.15" r="1.68" fill="#2e4257"/>
<circle cx="271.15" cy="154.15" r="1.68" fill="#2e4257"/>
<circle cx="275.96" cy="153.19" r="1.68" fill="#2e4257"/>
<circle cx="278.85" cy="155.12" r="1.68" fill="#2e4257"/>
<circle cx="283.65" cy="154.15" r="1.68" fill="#2e4257"/>
<circle cx="285.58" cy="156.08" r="1.68" fill="#2e4257"/>
<circle cx="280.77" cy="156.08" r="1.68" fill="#2e4257"/>
<circle cx="276.54" cy="156.08" r="1.68" fill="#2e4257"/>
<circle cx="300.00" cy="156.08" r="1.68" fill="#2e4257"/>
<circle cx="260.00" cy="158.65" r="1.68" fill="#2e4257"/>
<circle cx="263.08" cy="159.62" r="1.68" fill="#2e4257"/>
<circle cx="267.31" cy="159.23" r="1.68" fill="#2e4257"/>
<circle cx="275.00" cy="157.69" r="1.68" fill="#2e4257"/>
<circle cx="286.54" cy="157.69" r="1.68" fill="#2e4257"/>
<circle cx="289.42" cy="159.62" r="1.68" fill="#2e4257"/>
<circle cx="258.65" cy="163.46" r="1.68" fill="#2e4257"/>
<circle cx="261.54" cy="165.38" r="1.68" fill="#2e4257"/>
<circle cx="265.00" cy="163.85" r="1.68" fill="#2e4257"/>
<circle cx="268.27" cy="161.92" r="1.68" fill="#2e4257"/>
<circle cx="270.19" cy="164.42" r="1.68" fill="#2e4257"/>
<circle cx="265.77" cy="168.27" r="1.68" fill="#2e4257"/>
<circle cx="269.23" cy="167.69" r="1.68" fill="#2e4257"/>
<circle cx="260.58" cy="172.69" r="1.68" fill="#2e4257"/>
<circle cx="278.85" cy="161.92" r="1.68" fill="#2e4257"/>
<circle cx="280.77" cy="164.42" r="1.68" fill="#2e4257"/>
<circle cx="283.65" cy="162.50" r="1.68" fill="#2e4257"/>
<circle cx="286.54" cy="163.85" r="1.68" fill="#2e4257"/>
<circle cx="290.38" cy="162.50" r="1.68" fill="#2e4257"/>
<circle cx="292.69" cy="165.38" r="1.68" fill="#2e4257"/>
<circle cx="285.00" cy="168.27" r="1.68" fill="#2e4257"/>
<circle cx="282.69" cy="169.23" r="1.68" fill="#2e4257"/>
<circle cx="275.96" cy="170.19" r="1.68" fill="#2e4257"/>
<circle cx="279.81" cy="172.12" r="1.68" fill="#2e4257"/>
<circle cx="281.73" cy="174.04" r="1.68" fill="#2e4257"/>
<circle cx="286.92" cy="175.00" r="1.68" fill="#2e4257"/>
<circle cx="290.38" cy="172.69" r="1.68" fill="#2e4257"/>
<circle cx="295.19" cy="173.46" r="1.68" fill="#2e4257"/>
<circle cx="267.31" cy="175.00" r="1.68" fill="#2e4257"/>
<circle cx="271.15" cy="174.04" r="1.68" fill="#2e4257"/>
<circle cx="261.92" cy="177.88" r="1.68" fill="#2e4257"/>
<circle cx="270.19" cy="178.46" r="1.68" fill="#2e4257"/>
<circle cx="274.04" cy="179.81" r="1.68" fill="#2e4257"/>
<circle cx="275.96" cy="181.73" r="1.68" fill="#2e4257"/>
<circle cx="280.77" cy="178.85" r="1.68" fill="#2e4257"/>
<circle cx="281.73" cy="181.73" r="1.68" fill="#2e4257"/>
<circle cx="268.27" cy="181.73" r="1.68" fill="#2e4257"/>
<circle cx="267.31" cy="184.62" r="1.68" fill="#2e4257"/>
<circle cx="275.00" cy="185.58" r="1.68" fill="#2e4257"/>
<circle cx="278.85" cy="186.15" r="1.68" fill="#2e4257"/>
<circle cx="282.31" cy="185.58" r="1.68" fill="#2e4257"/>
<circle cx="284.23" cy="183.65" r="1.68" fill="#2e4257"/>
<circle cx="291.35" cy="178.85" r="1.68" fill="#2e4257"/>
<circle cx="288.46" cy="188.46" r="1.68" fill="#2e4257"/>
<circle cx="291.35" cy="191.35" r="1.68" fill="#2e4257"/>
<circle cx="296.15" cy="187.50" r="1.68" fill="#2e4257"/>
<circle cx="279.23" cy="192.31" r="1.68" fill="#2e4257"/>
<circle cx="279.23" cy="195.19" r="1.68" fill="#2e4257"/>
<circle cx="287.50" cy="194.23" r="1.68" fill="#2e4257"/>
<circle cx="282.31" cy="199.04" r="1.68" fill="#2e4257"/>
<circle cx="297.12" cy="180.77" r="1.68" fill="#2e4257"/>
<circle cx="272.50" cy="138.80" r="1.68" fill="#2e4257"/>
<circle cx="275.50" cy="140.80" r="1.68" fill="#2e4257"/>
<circle cx="277.50" cy="143.00" r="1.68" fill="#2e4257"/>
<circle cx="271.20" cy="141.80" r="1.68" fill="#2e4257"/>
<circle cx="286.50" cy="146.60" r="1.68" fill="#2e4257"/>
<circle cx="284.00" cy="151.00" r="1.68" fill="#2e4257"/>
<path d="M301.54 113.72L303.84 117.70L299.25 117.70Z" fill="#c5102e"/>
<path d="M306.73 113.72L309.03 117.70L304.44 117.70Z" fill="#c5102e"/>
<path d="M303.85 117.56L306.15 121.54L301.56 121.54Z" fill="#c5102e"/>
<path d="M307.69 117.56L309.99 121.54L305.39 121.54Z" fill="#c5102e"/>
<path d="M311.54 119.49L313.84 123.47L309.25 123.47Z" fill="#c5102e"/>
<path d="M316.73 118.72L319.03 122.70L314.44 122.70Z" fill="#c5102e"/>
<path d="M326.92 116.79L329.22 120.77L324.62 120.77Z" fill="#c5102e"/>
<path d="M304.81 125.83L307.11 129.81L302.51 129.81Z" fill="#c5102e"/>
<path d="M300.00 129.68L302.30 133.66L297.70 133.66Z" fill="#c5102e"/>
<path d="M304.81 131.60L307.11 135.58L302.51 135.58Z" fill="#c5102e"/>
<path d="M311.54 124.87L313.84 128.85L309.25 128.85Z" fill="#c5102e"/>
<path d="M317.31 124.87L319.61 128.85L315.01 128.85Z" fill="#c5102e"/>
<path d="M311.54 131.60L313.84 135.58L309.25 135.58Z" fill="#c5102e"/>
<path d="M314.42 128.72L316.72 132.70L312.12 132.70Z" fill="#c5102e"/>
<path d="M320.19 129.68L322.49 133.66L317.89 133.66Z" fill="#c5102e"/>
<path d="M323.08 124.87L325.38 128.85L320.78 128.85Z" fill="#c5102e"/>
<path d="M325.00 127.76L327.30 131.74L322.70 131.74Z" fill="#c5102e"/>
<path d="M332.69 124.87L334.99 128.85L330.39 128.85Z" fill="#c5102e"/>
<path d="M335.00 124.87L337.30 128.85L332.70 128.85Z" fill="#c5102e"/>
<path d="M328.85 129.68L331.15 133.66L326.56 133.66Z" fill="#c5102e"/>
<path d="M334.62 130.64L336.92 134.62L332.32 134.62Z" fill="#c5102e"/>
<path d="M329.81 126.79L332.11 130.77L327.51 130.77Z" fill="#c5102e"/>
<path d="M300.96 140.26L303.25 144.24L298.66 144.24Z" fill="#c5102e"/>
<path d="M305.77 141.22L308.06 145.20L303.47 145.20Z" fill="#c5102e"/>
<path d="M311.15 138.33L313.44 142.31L308.85 142.31Z" fill="#c5102e"/>
<path d="M316.35 138.33L318.65 142.31L314.06 142.31Z" fill="#c5102e"/>
<path d="M321.15 137.37L323.44 141.35L318.85 141.35Z" fill="#c5102e"/>
<path d="M324.04 135.45L326.34 139.43L321.75 139.43Z" fill="#c5102e"/>
<path d="M325.96 137.37L328.25 141.35L323.66 141.35Z" fill="#c5102e"/>
<path d="M329.23 136.41L331.53 140.39L326.94 140.39Z" fill="#c5102e"/>
<path d="M331.73 140.26L334.03 144.24L329.44 144.24Z" fill="#c5102e"/>
<path d="M334.62 139.29L336.92 143.27L332.32 143.27Z" fill="#c5102e"/>
<path d="M337.50 142.18L339.80 146.16L335.20 146.16Z" fill="#c5102e"/>
<path d="M302.88 143.14L305.18 147.12L300.58 147.12Z" fill="#c5102e"/>
<path d="M306.73 145.06L309.03 149.04L304.44 149.04Z" fill="#c5102e"/>
<path d="M309.62 146.02L311.92 150.00L307.32 150.00Z" fill="#c5102e"/>
<path d="M314.42 146.02L316.72 150.00L312.12 150.00Z" fill="#c5102e"/>
<path d="M317.31 145.06L319.61 149.04L315.01 149.04Z" fill="#c5102e"/>
<path d="M318.27 146.99L320.56 150.97L315.97 150.97Z" fill="#c5102e"/>
<path d="M324.04 143.14L326.34 147.12L321.75 147.12Z" fill="#c5102e"/>
<path d="M325.00 145.06L327.30 149.04L322.70 149.04Z" fill="#c5102e"/>
<path d="M328.85 143.14L331.15 147.12L326.56 147.12Z" fill="#c5102e"/>
<path d="M330.77 145.06L333.06 149.04L328.47 149.04Z" fill="#c5102e"/>
<path d="M336.54 145.06L338.84 149.04L334.25 149.04Z" fill="#c5102e"/>
<path d="M339.42 146.99L341.72 150.97L337.12 150.97Z" fill="#c5102e"/>
<path d="M300.38 146.99L302.68 150.97L298.08 150.97Z" fill="#c5102e"/>
<path d="M307.69 148.91L309.99 152.89L305.39 152.89Z" fill="#c5102e"/>
<path d="M313.46 151.41L315.75 155.39L311.16 155.39Z" fill="#c5102e"/>
<path d="M324.04 150.26L326.34 154.24L321.75 154.24Z" fill="#c5102e"/>
<path d="M328.85 148.91L331.15 152.89L326.56 152.89Z" fill="#c5102e"/>
<path d="M334.62 148.91L336.92 152.89L332.32 152.89Z" fill="#c5102e"/>
<path d="M339.42 150.83L341.72 154.81L337.12 154.81Z" fill="#c5102e"/>
<path d="M342.31 153.72L344.61 157.70L340.01 157.70Z" fill="#c5102e"/>
<path d="M337.50 153.72L339.80 157.70L335.20 157.70Z" fill="#c5102e"/>
<path d="M301.92 153.72L304.22 157.70L299.62 157.70Z" fill="#c5102e"/>
<path d="M307.69 152.76L309.99 156.74L305.39 156.74Z" fill="#c5102e"/>
<path d="M326.92 132.56L329.22 136.54L324.62 136.54Z" fill="#c5102e"/>
<path d="M319.23 133.52L321.53 137.50L316.94 137.50Z" fill="#c5102e"/>
<path d="M333.08 134.49L335.38 138.47L330.78 138.47Z" fill="#c5102e"/>
<path d="M302.31 154.95L304.61 158.93L300.01 158.93Z" fill="#c5102e"/>
<path d="M306.73 158.22L309.03 162.20L304.44 162.20Z" fill="#c5102e"/>
<path d="M310.58 156.29L312.88 160.27L308.28 160.27Z" fill="#c5102e"/>
<path d="M312.50 158.22L314.80 162.20L310.20 162.20Z" fill="#c5102e"/>
<path d="M319.23 154.95L321.53 158.93L316.94 158.93Z" fill="#c5102e"/>
<path d="M318.85 158.22L321.15 162.20L316.56 162.20Z" fill="#c5102e"/>
<path d="M325.00 156.87L327.30 160.85L322.70 160.85Z" fill="#c5102e"/>
<path d="M326.92 159.18L329.22 163.16L324.62 163.16Z" fill="#c5102e"/>
<path d="M331.73 157.26L334.03 161.24L329.44 161.24Z" fill="#c5102e"/>
<path d="M334.62 156.29L336.92 160.27L332.32 160.27Z" fill="#c5102e"/>
<path d="M338.85 154.95L341.15 158.93L336.56 158.93Z" fill="#c5102e"/>
<path d="M343.27 155.33L345.56 159.31L340.97 159.31Z" fill="#c5102e"/>
<path d="M338.85 158.79L341.15 162.77L336.56 162.77Z" fill="#c5102e"/>
<path d="M304.23 161.49L306.53 165.47L301.94 165.47Z" fill="#c5102e"/>
<path d="M314.42 161.49L316.72 165.47L312.12 165.47Z" fill="#c5102e"/>
<path d="M317.31 164.56L319.61 168.54L315.01 168.54Z" fill="#c5102e"/>
<path d="M323.08 162.64L325.38 166.62L320.78 166.62Z" fill="#c5102e"/>
<path d="M322.12 165.91L324.42 169.89L319.82 169.89Z" fill="#c5102e"/>
<path d="M327.88 163.99L330.18 167.97L325.58 167.97Z" fill="#c5102e"/>
<path d="M330.77 162.06L333.06 166.04L328.47 166.04Z" fill="#c5102e"/>
<path d="M333.65 164.95L335.94 168.93L331.35 168.93Z" fill="#c5102e"/>
<path d="M335.58 162.06L337.88 166.04L333.28 166.04Z" fill="#c5102e"/>
<path d="M304.42 167.83L306.72 171.81L302.12 171.81Z" fill="#c5102e"/>
<path d="M307.69 170.33L309.99 174.31L305.39 174.31Z" fill="#c5102e"/>
<path d="M313.46 167.83L315.75 171.81L311.16 171.81Z" fill="#c5102e"/>
<path d="M316.35 170.72L318.65 174.70L314.06 174.70Z" fill="#c5102e"/>
<path d="M320.19 169.76L322.49 173.74L317.89 173.74Z" fill="#c5102e"/>
<path d="M325.96 168.79L328.25 172.77L323.66 172.77Z" fill="#c5102e"/>
<path d="M328.85 167.83L331.15 171.81L326.56 171.81Z" fill="#c5102e"/>
<path d="M332.69 169.76L334.99 173.74L330.39 173.74Z" fill="#c5102e"/>
<path d="M340.00 171.68L342.30 175.66L337.70 175.66Z" fill="#c5102e"/>
<path d="M305.77 174.56L308.06 178.54L303.47 178.54Z" fill="#c5102e"/>
<path d="M314.42 174.56L316.72 178.54L312.12 178.54Z" fill="#c5102e"/>
<path d="M318.27 176.49L320.56 180.47L315.97 180.47Z" fill="#c5102e"/>
<path d="M322.12 173.60L324.42 177.58L319.82 177.58Z" fill="#c5102e"/>
<path d="M324.04 175.52L326.34 179.50L321.75 179.50Z" fill="#c5102e"/>
<path d="M326.92 172.64L329.22 176.62L324.62 176.62Z" fill="#c5102e"/>
<path d="M328.85 176.49L331.15 180.47L326.56 180.47Z" fill="#c5102e"/>
<path d="M331.73 173.60L334.03 177.58L329.44 177.58Z" fill="#c5102e"/>
<path d="M302.88 179.37L305.18 183.35L300.58 183.35Z" fill="#c5102e"/>
<path d="M307.69 178.41L309.99 182.39L305.39 182.39Z" fill="#c5102e"/>
<path d="M311.54 181.29L313.84 185.27L309.25 185.27Z" fill="#c5102e"/>
<path d="M316.35 179.37L318.65 183.35L314.06 183.35Z" fill="#c5102e"/>
<path d="M321.15 179.37L323.44 183.35L318.85 183.35Z" fill="#c5102e"/>
<path d="M326.92 178.41L329.22 182.39L324.62 182.39Z" fill="#c5102e"/>
<path d="M341.35 178.41L343.65 182.39L339.06 182.39Z" fill="#c5102e"/>
<path d="M306.73 183.22L309.03 187.20L304.44 187.20Z" fill="#c5102e"/>
<path d="M310.58 184.18L312.88 188.16L308.28 188.16Z" fill="#c5102e"/>
<path d="M315.38 183.22L317.68 187.20L313.08 187.20Z" fill="#c5102e"/>
<path d="M321.15 183.22L323.44 187.20L318.85 187.20Z" fill="#c5102e"/>
<path d="M324.04 182.26L326.34 186.24L321.75 186.24Z" fill="#c5102e"/>
<path d="M328.85 183.22L331.15 187.20L326.56 187.20Z" fill="#c5102e"/>
<path d="M304.81 188.02L307.11 192.00L302.51 192.00Z" fill="#c5102e"/>
<path d="M308.65 187.06L310.94 191.04L306.35 191.04Z" fill="#c5102e"/>
<path d="M312.50 188.41L314.80 192.39L310.20 192.39Z" fill="#c5102e"/>
<path d="M316.92 188.99L319.22 192.97L314.62 192.97Z" fill="#c5102e"/>
<path d="M320.19 186.10L322.49 190.08L317.89 190.08Z" fill="#c5102e"/>
<path d="M325.00 188.02L327.30 192.00L322.70 192.00Z" fill="#c5102e"/>
<path d="M301.54 192.26L303.84 196.24L299.25 196.24Z" fill="#c5102e"/>
<path d="M303.85 193.79L306.15 197.77L301.56 197.77Z" fill="#c5102e"/>
<path d="M309.62 193.79L311.92 197.77L307.32 197.77Z" fill="#c5102e"/>
<path d="M316.35 190.91L318.65 194.89L314.06 194.89Z" fill="#c5102e"/>
<path d="M306.73 196.68L309.03 200.66L304.44 200.66Z" fill="#c5102e"/>
<path d="M326.00 140.64L328.30 144.62L323.70 144.62Z" fill="#c5102e"/>
<path d="M318.50 141.84L320.80 145.82L316.20 145.82Z" fill="#c5102e"/>
<path d="M334.50 143.84L336.80 147.82L332.20 147.82Z" fill="#c5102e"/>
<path d="M311.00 148.64L313.30 152.62L308.70 152.62Z" fill="#c5102e"/>
<path d="M327.00 146.64L329.30 150.62L324.70 150.62Z" fill="#c5102e"/>
<path d="M332.50 150.64L334.80 154.62L330.20 154.62Z" fill="#c5102e"/>
<path d="M341.50 149.64L343.80 153.62L339.20 153.62Z" fill="#c5102e"/>
<path d="M328.50 153.64L330.80 157.62L326.20 157.62Z" fill="#c5102e"/>
<path d="M335.50 158.64L337.80 162.62L333.20 162.62Z" fill="#c5102e"/>
<path d="M332.50 159.84L334.80 163.82L330.20 163.82Z" fill="#c5102e"/>
<path d="M322.00 159.14L324.30 163.12L319.70 163.12Z" fill="#c5102e"/>
<path d="M316.00 153.64L318.30 157.62L313.70 157.62Z" fill="#c5102e"/>
<path d="M321.50 153.64L323.80 157.62L319.20 157.62Z" fill="#c5102e"/>
<path d="M340.50 161.14L342.80 165.12L338.20 165.12Z" fill="#c5102e"/>
<path d="M344.00 157.64L346.30 161.62L341.70 161.62Z" fill="#c5102e"/>
<path d="M307.00 121.14L309.30 125.12L304.70 125.12Z" fill="#c5102e"/>
<path d="M309.50 120.14L311.80 124.12L307.20 124.12Z" fill="#c5102e"/>
<path d="M312.00 122.64L314.30 126.62L309.70 126.62Z" fill="#c5102e"/>
<path d="M308.50 124.64L310.80 128.62L306.20 128.62Z" fill="#c5102e"/>
<path d="M320.50 127.64L322.80 131.62L318.20 131.62Z" fill="#c5102e"/>
<path d="M323.50 123.64L325.80 127.62L321.20 127.62Z" fill="#c5102e"/>
<path d="M326.00 125.64L328.30 129.62L323.70 129.62Z" fill="#c5102e"/>
<path d="M330.50 128.64L332.80 132.62L328.20 132.62Z" fill="#c5102e"/>
<path d="M320.00 132.64L322.30 136.62L317.70 136.62Z" fill="#c5102e"/>
<path d="M323.50 135.14L325.80 139.12L321.20 139.12Z" fill="#c5102e"/>
<path d="M328.50 134.14L330.80 138.12L326.20 138.12Z" fill="#c5102e"/>
<path d="M334.50 132.14L336.80 136.12L332.20 136.12Z" fill="#c5102e"/>
<path d="M332.00 133.64L334.30 137.62L329.70 137.62Z" fill="#c5102e"/>
<path d="M304.00 132.64L306.30 136.62L301.70 136.62Z" fill="#c5102e"/>
<path d="M305.50 133.64L307.80 137.62L303.20 137.62Z" fill="#c5102e"/>
<path d="M293.85 112.95L296.15 116.93L291.56 116.93Z" fill="#ff9414"/>
<path d="M291.35 120.64L293.65 124.62L289.06 124.62Z" fill="#ff9414"/>
<path d="M297.69 121.99L299.99 125.97L295.39 125.97Z" fill="#ff9414"/>
<path d="M292.69 126.41L294.99 130.39L290.39 130.39Z" fill="#ff9414"/>
<path d="M268.65 130.64L270.94 134.62L266.35 134.62Z" fill="#ff9414"/>
<path d="M291.92 139.29L294.22 143.27L289.62 143.27Z" fill="#ff9414"/>
<path d="M295.58 145.06L297.88 149.04L293.28 149.04Z" fill="#ff9414"/>
<path d="M265.00 147.56L267.30 151.54L262.70 151.54Z" fill="#ff9414"/>
<circle cx="309.62" cy="117.04" r="1.68" fill="#ff9414"/>
<circle cx="308.65" cy="125.69" r="1.68" fill="#ff9414"/>
<circle cx="307.31" cy="140.31" r="1.68" fill="#ff9414"/>
<path d="M293.27 164.95L295.56 168.93L290.97 168.93Z" fill="#ff9414"/>
<path d="M297.12 166.87L299.42 170.85L294.82 170.85Z" fill="#ff9414"/>
<path d="M291.92 172.26L294.22 176.24L289.62 176.24Z" fill="#ff9414"/>
<path d="M286.15 175.14L288.44 179.12L283.85 179.12Z" fill="#ff9414"/>
<path d="M298.08 177.45L300.38 181.43L295.78 181.43Z" fill="#ff9414"/>
<path d="M293.85 181.29L296.15 185.27L291.56 185.27Z" fill="#ff9414"/>
<path d="M288.08 183.22L290.38 187.20L285.78 187.20Z" fill="#ff9414"/>
<path d="M295.77 185.14L298.06 189.12L293.47 189.12Z" fill="#ff9414"/>
<path d="M284.62 188.99L286.92 192.97L282.32 192.97Z" fill="#ff9414"/>
<path d="M296.15 188.99L298.44 192.97L293.85 192.97Z" fill="#ff9414"/>
<path d="M295.19 191.87L297.49 195.85L292.89 195.85Z" fill="#ff9414"/>
<path d="M297.69 192.26L299.99 196.24L295.39 196.24Z" fill="#ff9414"/>
<circle cx="301.92" cy="165.00" r="1.68" fill="#ff9414"/>
<circle cx="301.54" cy="170.77" r="1.68" fill="#ff9414"/>
<circle cx="300.96" cy="174.04" r="1.68" fill="#ff9414"/>
<circle cx="310.19" cy="175.38" r="1.68" fill="#ff9414"/>
<circle cx="301.92" cy="184.23" r="1.68" fill="#ff9414"/>
<circle cx="299.04" cy="190.38" r="1.68" fill="#ff9414"/>
<rect x="368.7" y="110.35" width="95.0" height="94.75" fill="#fff" stroke="#000" stroke-width="1.35"/>
<text x="406.2" y="106.8" font-size="7.5" textLength="18.8" lengthAdjust="spacingAndGlyphs">Mann</text>
<line x1="365.5" y1="115.7" x2="368.7" y2="115.7" stroke="#1c1c1c" stroke-width="0.95"/>
<text x="354.6" y="118.5" font-size="7.9" textLength="9.9" lengthAdjust="spacingAndGlyphs" fill="#1c1c1c" stroke="#1c1c1c" stroke-width="0.18">0.3</text>
<line x1="365.5" y1="130.7" x2="368.7" y2="130.7" stroke="#1c1c1c" stroke-width="0.95"/>
<text x="354.6" y="133.5" font-size="7.9" textLength="9.9" lengthAdjust="spacingAndGlyphs" fill="#1c1c1c" stroke="#1c1c1c" stroke-width="0.18">0.2</text>
<line x1="365.5" y1="145.5" x2="368.7" y2="145.5" stroke="#1c1c1c" stroke-width="0.95"/>
<text x="354.6" y="148.3" font-size="7.9" textLength="9.9" lengthAdjust="spacingAndGlyphs" fill="#1c1c1c" stroke="#1c1c1c" stroke-width="0.18">0.1</text>
<line x1="365.5" y1="160.2" x2="368.7" y2="160.2" stroke="#1c1c1c" stroke-width="0.95"/>
<text x="354.6" y="163.0" font-size="7.9" textLength="9.9" lengthAdjust="spacingAndGlyphs" fill="#1c1c1c" stroke="#1c1c1c" stroke-width="0.18">0.0</text>
<line x1="365.5" y1="175" x2="368.7" y2="175" stroke="#1c1c1c" stroke-width="0.95"/>
<text x="351.1" y="177.8" font-size="7.9" textLength="13.4" lengthAdjust="spacingAndGlyphs" fill="#1c1c1c" stroke="#1c1c1c" stroke-width="0.18">−0.1</text>
<line x1="365.5" y1="190" x2="368.7" y2="190" stroke="#1c1c1c" stroke-width="0.95"/>
<text x="351.1" y="192.8" font-size="7.9" textLength="13.4" lengthAdjust="spacingAndGlyphs" fill="#1c1c1c" stroke="#1c1c1c" stroke-width="0.18">−0.2</text>
<line x1="365.5" y1="204.7" x2="368.7" y2="204.7" stroke="#1c1c1c" stroke-width="0.95"/>
<text x="351.1" y="207.5" font-size="7.9" textLength="13.4" lengthAdjust="spacingAndGlyphs" fill="#1c1c1c" stroke="#1c1c1c" stroke-width="0.18">−0.3</text>
<line x1="393" y1="205.1" x2="393" y2="208.29999999999998" stroke="#1c1c1c" stroke-width="0.95"/>
<text x="386.3" y="216.2" font-size="7.9" textLength="13.4" lengthAdjust="spacingAndGlyphs" fill="#1c1c1c" stroke="#1c1c1c" stroke-width="0.18">−0.2</text>
<line x1="421.2" y1="205.1" x2="421.2" y2="208.29999999999998" stroke="#1c1c1c" stroke-width="0.95"/>
<text x="416.25" y="216.2" font-size="7.9" textLength="9.9" lengthAdjust="spacingAndGlyphs" fill="#1c1c1c" stroke="#1c1c1c" stroke-width="0.18">0.0</text>
<line x1="449.5" y1="205.1" x2="449.5" y2="208.29999999999998" stroke="#1c1c1c" stroke-width="0.95"/>
<text x="444.55" y="216.2" font-size="7.9" textLength="9.9" lengthAdjust="spacingAndGlyphs" fill="#1c1c1c" stroke="#1c1c1c" stroke-width="0.18">0.2</text>
<circle cx="446.27" cy="128.19" r="1.68" fill="#2e4257"/>
<circle cx="446.85" cy="132.62" r="1.68" fill="#2e4257"/>
<circle cx="441.46" cy="135.31" r="1.68" fill="#2e4257"/>
<circle cx="436.85" cy="136.46" r="1.68" fill="#2e4257"/>
<circle cx="454.15" cy="138.77" r="1.68" fill="#2e4257"/>
<circle cx="435.31" cy="141.08" r="1.68" fill="#2e4257"/>
<circle cx="431.08" cy="143.00" r="1.68" fill="#2e4257"/>
<circle cx="439.54" cy="142.62" r="1.68" fill="#2e4257"/>
<circle cx="443.00" cy="142.62" r="1.68" fill="#2e4257"/>
<circle cx="446.46" cy="141.65" r="1.68" fill="#2e4257"/>
<circle cx="433.77" cy="146.08" r="1.68" fill="#2e4257"/>
<circle cx="437.62" cy="145.50" r="1.68" fill="#2e4257"/>
<circle cx="441.08" cy="146.46" r="1.68" fill="#2e4257"/>
<circle cx="445.88" cy="145.50" r="1.68" fill="#2e4257"/>
<circle cx="448.77" cy="146.08" r="1.68" fill="#2e4257"/>
<circle cx="453.58" cy="148.00" r="1.68" fill="#2e4257"/>
<circle cx="435.31" cy="149.35" r="1.68" fill="#2e4257"/>
<circle cx="437.62" cy="148.77" r="1.68" fill="#2e4257"/>
<circle cx="443.96" cy="148.38" r="1.68" fill="#2e4257"/>
<circle cx="447.81" cy="149.35" r="1.68" fill="#2e4257"/>
<circle cx="450.69" cy="150.31" r="1.68" fill="#2e4257"/>
<circle cx="442.04" cy="151.85" r="1.68" fill="#2e4257"/>
<circle cx="445.88" cy="152.62" r="1.68" fill="#2e4257"/>
<circle cx="451.08" cy="152.62" r="1.68" fill="#2e4257"/>
<circle cx="452.62" cy="154.54" r="1.68" fill="#2e4257"/>
<circle cx="434.73" cy="154.15" r="1.68" fill="#2e4257"/>
<circle cx="440.12" cy="155.12" r="1.68" fill="#2e4257"/>
<circle cx="444.54" cy="155.12" r="1.68" fill="#2e4257"/>
<circle cx="448.77" cy="156.08" r="1.68" fill="#2e4257"/>
<circle cx="429.15" cy="157.04" r="1.68" fill="#2e4257"/>
<circle cx="435.31" cy="158.08" r="1.68" fill="#2e4257"/>
<circle cx="444.92" cy="158.65" r="1.68" fill="#2e4257"/>
<circle cx="449.73" cy="157.69" r="1.68" fill="#2e4257"/>
<circle cx="452.62" cy="160.58" r="1.68" fill="#2e4257"/>
<circle cx="455.50" cy="162.50" r="1.68" fill="#2e4257"/>
<circle cx="459.92" cy="166.35" r="1.68" fill="#2e4257"/>
<circle cx="431.46" cy="163.46" r="1.68" fill="#2e4257"/>
<circle cx="436.27" cy="161.54" r="1.68" fill="#2e4257"/>
<circle cx="440.69" cy="163.85" r="1.68" fill="#2e4257"/>
<circle cx="443.96" cy="161.92" r="1.68" fill="#2e4257"/>
<circle cx="447.81" cy="163.08" r="1.68" fill="#2e4257"/>
<circle cx="451.08" cy="164.42" r="1.68" fill="#2e4257"/>
<circle cx="428.58" cy="167.69" r="1.68" fill="#2e4257"/>
<circle cx="432.42" cy="169.23" r="1.68" fill="#2e4257"/>
<circle cx="437.23" cy="168.27" r="1.68" fill="#2e4257"/>
<circle cx="441.08" cy="170.19" r="1.68" fill="#2e4257"/>
<circle cx="444.92" cy="167.31" r="1.68" fill="#2e4257"/>
<circle cx="448.77" cy="168.27" r="1.68" fill="#2e4257"/>
<circle cx="453.58" cy="166.92" r="1.68" fill="#2e4257"/>
<circle cx="429.54" cy="170.77" r="1.68" fill="#2e4257"/>
<circle cx="434.92" cy="174.62" r="1.68" fill="#2e4257"/>
<circle cx="440.12" cy="174.04" r="1.68" fill="#2e4257"/>
<circle cx="443.00" cy="175.00" r="1.68" fill="#2e4257"/>
<circle cx="447.23" cy="173.46" r="1.68" fill="#2e4257"/>
<circle cx="454.92" cy="174.62" r="1.68" fill="#2e4257"/>
<circle cx="431.08" cy="180.77" r="1.68" fill="#2e4257"/>
<circle cx="434.92" cy="178.46" r="1.68" fill="#2e4257"/>
<circle cx="438.19" cy="181.73" r="1.68" fill="#2e4257"/>
<circle cx="442.04" cy="180.77" r="1.68" fill="#2e4257"/>
<circle cx="446.46" cy="179.81" r="1.68" fill="#2e4257"/>
<circle cx="447.81" cy="176.92" r="1.68" fill="#2e4257"/>
<circle cx="424.73" cy="180.38" r="1.68" fill="#2e4257"/>
<circle cx="423.38" cy="183.65" r="1.68" fill="#2e4257"/>
<circle cx="426.65" cy="185.58" r="1.68" fill="#2e4257"/>
<circle cx="429.92" cy="186.15" r="1.68" fill="#2e4257"/>
<circle cx="424.73" cy="188.46" r="1.68" fill="#2e4257"/>
<circle cx="439.54" cy="184.62" r="1.68" fill="#2e4257"/>
<circle cx="443.00" cy="184.23" r="1.68" fill="#2e4257"/>
<circle cx="448.77" cy="185.58" r="1.68" fill="#2e4257"/>
<circle cx="435.69" cy="189.42" r="1.68" fill="#2e4257"/>
<path d="M410.69 111.99L412.99 115.97L408.39 115.97Z" fill="#c5102e"/>
<path d="M406.85 114.68L409.15 118.66L404.56 118.66Z" fill="#c5102e"/>
<path d="M424.15 117.56L426.44 121.54L421.85 121.54Z" fill="#c5102e"/>
<path d="M427.23 118.14L429.53 122.12L424.94 122.12Z" fill="#c5102e"/>
<path d="M417.04 119.49L419.34 123.47L414.75 123.47Z" fill="#c5102e"/>
<path d="M410.88 120.45L413.18 124.43L408.58 124.43Z" fill="#c5102e"/>
<path d="M418.38 123.91L420.68 127.89L416.08 127.89Z" fill="#c5102e"/>
<path d="M408.96 124.87L411.25 128.85L406.66 128.85Z" fill="#c5102e"/>
<path d="M386.65 122.95L388.94 126.93L384.35 126.93Z" fill="#c5102e"/>
<path d="M392.04 122.95L394.34 126.93L389.75 126.93Z" fill="#c5102e"/>
<path d="M389.54 128.14L391.84 132.12L387.25 132.12Z" fill="#c5102e"/>
<path d="M396.46 130.26L398.75 134.24L394.16 134.24Z" fill="#c5102e"/>
<path d="M400.69 129.68L402.99 133.66L398.39 133.66Z" fill="#c5102e"/>
<path d="M421.46 128.33L423.75 132.31L419.16 132.31Z" fill="#c5102e"/>
<path d="M411.85 130.26L414.15 134.24L409.56 134.24Z" fill="#c5102e"/>
<path d="M409.35 131.60L411.65 135.58L407.06 135.58Z" fill="#c5102e"/>
<path d="M406.46 132.56L408.75 136.54L404.16 136.54Z" fill="#c5102e"/>
<path d="M379.15 132.56L381.44 136.54L376.85 136.54Z" fill="#c5102e"/>
<path d="M389.54 134.87L391.84 138.85L387.25 138.85Z" fill="#c5102e"/>
<path d="M413.77 134.87L416.06 138.85L411.47 138.85Z" fill="#c5102e"/>
<path d="M422.81 136.99L425.11 140.97L420.51 140.97Z" fill="#c5102e"/>
<path d="M411.27 137.95L413.56 141.93L408.97 141.93Z" fill="#c5102e"/>
<path d="M403.00 138.91L405.30 142.89L400.70 142.89Z" fill="#c5102e"/>
<path d="M415.12 139.87L417.42 143.85L412.82 143.85Z" fill="#c5102e"/>
<path d="M422.23 140.64L424.53 144.62L419.94 144.62Z" fill="#c5102e"/>
<path d="M392.04 143.14L394.34 147.12L389.75 147.12Z" fill="#c5102e"/>
<path d="M391.08 144.10L393.38 148.08L388.78 148.08Z" fill="#c5102e"/>
<path d="M399.73 143.72L402.03 147.70L397.44 147.70Z" fill="#c5102e"/>
<path d="M403.58 143.14L405.88 147.12L401.28 147.12Z" fill="#c5102e"/>
<path d="M408.77 144.10L411.06 148.08L406.47 148.08Z" fill="#c5102e"/>
<path d="M414.15 144.10L416.44 148.08L411.85 148.08Z" fill="#c5102e"/>
<path d="M423.19 143.72L425.49 147.70L420.89 147.70Z" fill="#c5102e"/>
<path d="M421.85 146.41L424.15 150.39L419.56 150.39Z" fill="#c5102e"/>
<path d="M383.00 146.02L385.30 150.00L380.70 150.00Z" fill="#c5102e"/>
<path d="M393.96 146.99L396.25 150.97L391.66 150.97Z" fill="#c5102e"/>
<path d="M416.08 147.56L418.38 151.54L413.78 151.54Z" fill="#c5102e"/>
<path d="M403.00 148.33L405.30 152.31L400.70 152.31Z" fill="#c5102e"/>
<path d="M378.58 149.87L380.88 153.85L376.28 153.85Z" fill="#c5102e"/>
<path d="M388.19 149.87L390.49 153.85L385.89 153.85Z" fill="#c5102e"/>
<path d="M393.96 149.49L396.25 153.47L391.66 153.47Z" fill="#c5102e"/>
<path d="M400.69 151.41L402.99 155.39L398.39 155.39Z" fill="#c5102e"/>
<path d="M405.50 150.83L407.80 154.81L403.20 154.81Z" fill="#c5102e"/>
<path d="M408.77 151.79L411.06 155.77L406.47 155.77Z" fill="#c5102e"/>
<path d="M413.77 149.87L416.06 153.85L411.47 153.85Z" fill="#c5102e"/>
<path d="M388.77 152.37L391.06 156.35L386.47 156.35Z" fill="#c5102e"/>
<path d="M420.88 148.91L423.18 152.89L418.58 152.89Z" fill="#c5102e"/>
<path d="M399.15 154.10L401.44 158.08L396.85 158.08Z" fill="#c5102e"/>
<path d="M390.69 154.10L392.99 158.08L388.39 158.08Z" fill="#c5102e"/>
<path d="M417.04 154.68L419.34 158.66L414.75 158.66Z" fill="#c5102e"/>
<path d="M420.88 154.68L423.18 158.66L418.58 158.66Z" fill="#c5102e"/>
<path d="M417.62 155.72L419.92 159.70L415.32 159.70Z" fill="#c5102e"/>
<path d="M420.88 155.72L423.18 159.70L418.58 159.70Z" fill="#c5102e"/>
<path d="M401.65 156.87L403.94 160.85L399.35 160.85Z" fill="#c5102e"/>
<path d="M407.42 157.26L409.72 161.24L405.12 161.24Z" fill="#c5102e"/>
<path d="M395.88 159.56L398.18 163.54L393.58 163.54Z" fill="#c5102e"/>
<path d="M400.69 160.72L402.99 164.70L398.39 164.70Z" fill="#c5102e"/>
<path d="M404.92 162.64L407.22 166.62L402.62 166.62Z" fill="#c5102e"/>
<path d="M379.54 160.14L381.84 164.12L377.25 164.12Z" fill="#c5102e"/>
<path d="M380.50 162.64L382.80 166.62L378.20 166.62Z" fill="#c5102e"/>
<path d="M382.42 164.95L384.72 168.93L380.12 168.93Z" fill="#c5102e"/>
<path d="M388.19 163.02L390.49 167.00L385.89 167.00Z" fill="#c5102e"/>
<path d="M389.15 166.87L391.44 170.85L386.85 170.85Z" fill="#c5102e"/>
<path d="M395.88 165.91L398.18 169.89L393.58 169.89Z" fill="#c5102e"/>
<path d="M398.77 164.56L401.06 168.54L396.47 168.54Z" fill="#c5102e"/>
<path d="M407.42 166.49L409.72 170.47L405.12 170.47Z" fill="#c5102e"/>
<path d="M410.69 168.79L412.99 172.77L408.39 172.77Z" fill="#c5102e"/>
<path d="M415.12 163.99L417.42 167.97L412.82 167.97Z" fill="#c5102e"/>
<path d="M418.00 159.56L420.30 163.54L415.70 163.54Z" fill="#c5102e"/>
<path d="M418.38 170.33L420.68 174.31L416.08 174.31Z" fill="#c5102e"/>
<path d="M372.81 170.33L375.11 174.31L370.51 174.31Z" fill="#c5102e"/>
<path d="M385.31 173.60L387.61 177.58L383.01 177.58Z" fill="#c5102e"/>
<path d="M393.00 171.68L395.30 175.66L390.70 175.66Z" fill="#c5102e"/>
<path d="M397.81 172.26L400.11 176.24L395.51 176.24Z" fill="#c5102e"/>
<path d="M400.31 170.72L402.61 174.70L398.01 174.70Z" fill="#c5102e"/>
<path d="M408.00 173.02L410.30 177.00L405.70 177.00Z" fill="#c5102e"/>
<path d="M391.08 176.10L393.38 180.08L388.78 180.08Z" fill="#c5102e"/>
<path d="M408.38 176.49L410.68 180.47L406.08 180.47Z" fill="#c5102e"/>
<path d="M413.19 176.10L415.49 180.08L410.89 180.08Z" fill="#c5102e"/>
<path d="M399.73 176.49L402.03 180.47L397.44 180.47Z" fill="#c5102e"/>
<path d="M405.50 177.45L407.80 181.43L403.20 181.43Z" fill="#c5102e"/>
<path d="M417.04 178.79L419.34 182.77L414.75 182.77Z" fill="#c5102e"/>
<path d="M388.19 180.33L390.49 184.31L385.89 184.31Z" fill="#c5102e"/>
<path d="M394.92 181.87L397.22 185.85L392.62 185.85Z" fill="#c5102e"/>
<path d="M399.15 181.87L401.44 185.85L396.85 185.85Z" fill="#c5102e"/>
<path d="M402.23 182.64L404.53 186.62L399.94 186.62Z" fill="#c5102e"/>
<path d="M406.08 183.22L408.38 187.20L403.78 187.20Z" fill="#c5102e"/>
<path d="M412.23 181.87L414.53 185.85L409.94 185.85Z" fill="#c5102e"/>
<path d="M392.62 186.10L394.92 190.08L390.32 190.08Z" fill="#c5102e"/>
<path d="M400.69 187.06L402.99 191.04L398.39 191.04Z" fill="#c5102e"/>
<path d="M405.50 186.10L407.80 190.08L403.20 190.08Z" fill="#c5102e"/>
<path d="M412.62 188.41L414.92 192.39L410.32 192.39Z" fill="#c5102e"/>
<path d="M399.73 190.33L402.03 194.31L397.44 194.31Z" fill="#c5102e"/>
<path d="M408.77 196.10L411.06 200.08L406.47 200.08Z" fill="#c5102e"/>
<circle cx="421.85" cy="114.73" r="1.68" fill="#ff9414"/>
<circle cx="425.31" cy="131.46" r="1.68" fill="#ff9414"/>
<circle cx="418.96" cy="133.96" r="1.68" fill="#ff9414"/>
<circle cx="389.54" cy="143.19" r="1.68" fill="#ff9414"/>
<circle cx="415.69" cy="153.19" r="1.68" fill="#ff9414"/>
<circle cx="407.81" cy="153.19" r="1.68" fill="#ff9414"/>
<path d="M440.50 111.99L442.80 115.97L438.20 115.97Z" fill="#ff9414"/>
<path d="M431.08 121.02L433.38 125.00L428.78 125.00Z" fill="#ff9414"/>
<path d="M442.04 122.95L444.34 126.93L439.75 126.93Z" fill="#ff9414"/>
<path d="M429.15 131.02L431.44 135.00L426.85 135.00Z" fill="#ff9414"/>
<path d="M446.46 132.56L448.75 136.54L444.16 136.54Z" fill="#ff9414"/>
<path d="M431.46 153.72L433.75 157.70L429.16 157.70Z" fill="#ff9414"/>
<path d="M424.73 159.18L427.03 163.16L422.44 163.16Z" fill="#ff9414"/>
<path d="M425.69 162.06L427.99 166.04L423.39 166.04Z" fill="#ff9414"/>
<path d="M425.31 164.95L427.61 168.93L423.01 168.93Z" fill="#ff9414"/>
<path d="M422.81 166.49L425.11 170.47L420.51 170.47Z" fill="#ff9414"/>
<path d="M420.88 168.41L423.18 172.39L418.58 172.39Z" fill="#ff9414"/>
<path d="M423.77 169.76L426.06 173.74L421.47 173.74Z" fill="#ff9414"/>
<path d="M419.54 172.26L421.84 176.24L417.25 176.24Z" fill="#ff9414"/>
<path d="M429.15 172.64L431.44 176.62L426.85 176.62Z" fill="#ff9414"/>
<path d="M420.88 174.56L423.18 178.54L418.58 178.54Z" fill="#ff9414"/>
<path d="M417.62 181.87L419.92 185.85L415.32 185.85Z" fill="#ff9414"/>
<path d="M418.00 186.10L420.30 190.08L415.70 190.08Z" fill="#ff9414"/>
<path d="M416.08 188.41L418.38 192.39L413.78 192.39Z" fill="#ff9414"/>
<path d="M426.08 185.14L428.38 189.12L423.78 189.12Z" fill="#ff9414"/>
<path d="M423.19 188.99L425.49 192.97L420.89 192.97Z" fill="#ff9414"/>
<path d="M417.62 196.10L419.92 200.08L415.32 200.08Z" fill="#ff9414"/>
<path d="M402.62 164.56L404.92 168.54L400.32 168.54Z" fill="#ff9414"/>
<path d="M427.23 198.41L429.53 202.39L424.94 202.39Z" fill="#ff9414"/>
<text x="466.1" y="113.0" font-size="6.6" textLength="52" lengthAdjust="spacingAndGlyphs">Measured cell age</text>
<circle cx="470.60" cy="119.70" r="1.8" fill="#000"/>
<text x="476.6" y="121.3" font-size="6.6" textLength="17.5" lengthAdjust="spacingAndGlyphs">Young</text>
<path d="M470.60 123.88L472.95 127.96L468.25 127.96Z" fill="#000"/>
<text x="476.6" y="128.0" font-size="6.6" textLength="15.5" lengthAdjust="spacingAndGlyphs">Aged</text>
<text x="466.1" y="142.9" font-size="6.6" textLength="51.5" lengthAdjust="spacingAndGlyphs">Predicted cell age</text>
<circle cx="470.30" cy="149.40" r="1.6" fill="#2c5080"/>
<text x="476.6" y="151.4" font-size="6.6" textLength="17.5" lengthAdjust="spacingAndGlyphs">Young</text>
<circle cx="470.30" cy="156.70" r="1.7" fill="#c5102e"/>
<text x="476.6" y="158.4" font-size="6.6" textLength="15.5" lengthAdjust="spacingAndGlyphs">Aged</text>
<circle cx="470.30" cy="163.60" r="1.7" fill="#ff9414"/>
<text x="476.6" y="165.3" font-size="6.6" textLength="27.5" lengthAdjust="spacingAndGlyphs">Mismatch</text>
<line x1="13.7" y1="232.5" x2="13.7" y2="211" stroke="#000" stroke-width="1.1"/>
<path d="M13.7 206.5L11.2 212L16.2 212Z" fill="#000"/>
<line x1="13.2" y1="232.5" x2="36" y2="232.5" stroke="#000" stroke-width="1.1"/>
<path d="M40.5 232.5L35 230L35 235Z" fill="#000"/>
<text x="11.3" y="231.5" font-size="10.3" textLength="19" lengthAdjust="spacingAndGlyphs" transform="rotate(-90 11.3 231.5)">PC2</text>
<text x="15.5" y="243" font-size="10.3" textLength="17.5" lengthAdjust="spacingAndGlyphs">PC1</text>
<text x="7.5" y="257.6" font-size="10.8" font-weight="bold" textLength="7.4" lengthAdjust="spacingAndGlyphs" fill="#000" stroke="#000" stroke-width="0.2">B</text>
<text x="79" y="256.4" font-size="8.9" textLength="102.3" lengthAdjust="spacingAndGlyphs">ADAboost - training sets</text>
<rect x="58.3" y="260.8" width="135.3" height="135" fill="#fff" stroke="#3a3a3a" stroke-width="1.2"/>
<rect x="61.3" y="263.8" width="32.349999999999994" height="32.25" fill="#58c765"/>
<rect x="93.6" y="263.8" width="32.349999999999994" height="32.25" fill="#472e7c"/>
<rect x="125.9" y="263.8" width="32.349999999999994" height="32.25" fill="#20a486"/>
<rect x="158.2" y="263.8" width="32.349999999999994" height="32.25" fill="#fde725"/>
<rect x="61.3" y="296.0" width="32.349999999999994" height="32.25" fill="#46c06f"/>
<rect x="93.6" y="296.0" width="32.349999999999994" height="32.25" fill="#440154"/>
<rect x="125.9" y="296.0" width="32.349999999999994" height="32.25" fill="#fde725"/>
<rect x="158.2" y="296.0" width="32.349999999999994" height="32.25" fill="#3aba76"/>
<rect x="61.3" y="328.2" width="32.349999999999994" height="32.25" fill="#482677"/>
<rect x="93.6" y="328.2" width="32.349999999999994" height="32.25" fill="#e5e419"/>
<rect x="125.9" y="328.2" width="32.349999999999994" height="32.25" fill="#481d6f"/>
<rect x="158.2" y="328.2" width="32.349999999999994" height="32.25" fill="#355e8d"/>
<rect x="61.3" y="360.4" width="32.349999999999994" height="32.25" fill="#fde725"/>
<rect x="93.6" y="360.4" width="32.349999999999994" height="32.25" fill="#46085c"/>
<rect x="125.9" y="360.4" width="32.349999999999994" height="32.25" fill="#29798e"/>
<rect x="158.2" y="360.4" width="32.349999999999994" height="32.25" fill="#1f9e89"/>
<text x="67.45" y="282.3" font-size="6.6" textLength="20" lengthAdjust="spacingAndGlyphs" fill="#fff">0.8848</text>
<text x="99.75" y="282.3" font-size="6.6" textLength="20" lengthAdjust="spacingAndGlyphs" fill="#fff">0.6129</text>
<text x="132.05" y="282.3" font-size="6.6" textLength="20" lengthAdjust="spacingAndGlyphs" fill="#fff">0.8157</text>
<text x="172.55" y="282.3" font-size="6.6" fill="#000">1</text>
<text x="67.45" y="314.5" font-size="6.6" textLength="20" lengthAdjust="spacingAndGlyphs" fill="#fff">0.8689</text>
<text x="99.75" y="314.5" font-size="6.6" textLength="20" lengthAdjust="spacingAndGlyphs" fill="#fff">0.5549</text>
<text x="140.25" y="314.5" font-size="6.6" fill="#000">1</text>
<text x="164.35" y="314.5" font-size="6.6" textLength="20" lengthAdjust="spacingAndGlyphs" fill="#fff">0.8567</text>
<text x="67.45" y="346.7" font-size="6.6" textLength="20" lengthAdjust="spacingAndGlyphs" fill="#fff">0.6024</text>
<text x="99.75" y="346.7" font-size="6.6" textLength="20" lengthAdjust="spacingAndGlyphs" fill="#fff">0.9819</text>
<text x="132.05" y="346.7" font-size="6.6" textLength="20" lengthAdjust="spacingAndGlyphs" fill="#fff">0.5904</text>
<text x="164.35" y="346.7" font-size="6.6" textLength="20" lengthAdjust="spacingAndGlyphs" fill="#fff">0.6867</text>
<text x="75.65" y="378.9" font-size="6.6" fill="#000">1</text>
<text x="99.75" y="378.9" font-size="6.6" textLength="20" lengthAdjust="spacingAndGlyphs" fill="#fff">0.5641</text>
<text x="133.8" y="378.9" font-size="6.6" textLength="16.5" lengthAdjust="spacingAndGlyphs" fill="#fff">0.735</text>
<text x="164.35" y="378.9" font-size="6.6" textLength="20" lengthAdjust="spacingAndGlyphs" fill="#fff">0.8034</text>
<line x1="93.6" y1="263.8" x2="93.6" y2="392.6" stroke="#fff" stroke-width="0.5" stroke-opacity="0.28"/>
<line x1="61.3" y1="296.0" x2="190.5" y2="296.0" stroke="#fff" stroke-width="0.5" stroke-opacity="0.28"/>
<line x1="125.9" y1="263.8" x2="125.9" y2="392.6" stroke="#fff" stroke-width="0.5" stroke-opacity="0.28"/>
<line x1="61.3" y1="328.2" x2="190.5" y2="328.2" stroke="#fff" stroke-width="0.5" stroke-opacity="0.28"/>
<line x1="158.2" y1="263.8" x2="158.2" y2="392.6" stroke="#fff" stroke-width="0.5" stroke-opacity="0.28"/>
<line x1="61.3" y1="360.4" x2="190.5" y2="360.4" stroke="#fff" stroke-width="0.5" stroke-opacity="0.28"/>
<line x1="55.2" y1="279.9" x2="58.3" y2="279.9" stroke="#1c1c1c" stroke-width="0.95"/>
<text x="35.1" y="282.5" font-size="7.5" textLength="18.2" lengthAdjust="spacingAndGlyphs">Mann</text>
<line x1="55.2" y1="312.1" x2="58.3" y2="312.1" stroke="#1c1c1c" stroke-width="0.95"/>
<text x="18.8" y="314.70000000000005" font-size="7.5" textLength="34.5" lengthAdjust="spacingAndGlyphs">Kowalczyk</text>
<line x1="55.2" y1="344.3" x2="58.3" y2="344.3" stroke="#1c1c1c" stroke-width="0.95"/>
<text x="22.6" y="346.90000000000003" font-size="7.5" textLength="30.7" lengthAdjust="spacingAndGlyphs">Kirschner</text>
<line x1="55.2" y1="376.5" x2="58.3" y2="376.5" stroke="#1c1c1c" stroke-width="0.95"/>
<text x="30.1" y="379.1" font-size="7.5" textLength="23.2" lengthAdjust="spacingAndGlyphs">Grover</text>
<line x1="77.45" y1="395.8" x2="77.45" y2="398.9" stroke="#1c1c1c" stroke-width="0.95"/>
<text x="80.05" y="423.6" font-size="7.5" textLength="23" lengthAdjust="spacingAndGlyphs" transform="rotate(-90 80.05 423.6)">Grover</text>
<line x1="109.75" y1="395.8" x2="109.75" y2="398.9" stroke="#1c1c1c" stroke-width="0.95"/>
<text x="112.35" y="431.1" font-size="7.5" textLength="30.5" lengthAdjust="spacingAndGlyphs" transform="rotate(-90 112.35 431.1)">Kirschner</text>
<line x1="142.05" y1="395.8" x2="142.05" y2="398.9" stroke="#1c1c1c" stroke-width="0.95"/>
<text x="144.65" y="435.1" font-size="7.5" textLength="34.5" lengthAdjust="spacingAndGlyphs" transform="rotate(-90 144.65 435.1)">Kowalczyk</text>
<line x1="174.35" y1="395.8" x2="174.35" y2="398.9" stroke="#1c1c1c" stroke-width="0.95"/>
<text x="176.95" y="419.1" font-size="7.5" textLength="18.5" lengthAdjust="spacingAndGlyphs" transform="rotate(-90 176.95 419.1)">Mann</text>
<text x="11.3" y="346.2" font-size="10" textLength="40" lengthAdjust="spacingAndGlyphs" transform="rotate(-90 11.3 346.2)">Traning sets</text>
<text x="109.4" y="448" font-size="10" textLength="27.5" lengthAdjust="spacingAndGlyphs">Test sets</text>
<text x="198.7" y="263.8" font-size="6.7" textLength="46.8" lengthAdjust="spacingAndGlyphs">Score prediction</text>
<defs><linearGradient id="vg" x1="0" y1="1" x2="0" y2="0"><stop offset="0" stop-color="#440154"/><stop offset="0.125" stop-color="#472d7b"/><stop offset="0.25" stop-color="#3b528b"/><stop offset="0.375" stop-color="#2c728e"/><stop offset="0.5" stop-color="#21918c"/><stop offset="0.625" stop-color="#28ae80"/><stop offset="0.75" stop-color="#5ec962"/><stop offset="0.875" stop-color="#addc30"/><stop offset="1" stop-color="#fde725"/></linearGradient></defs>
<rect x="198.8" y="268.7" width="7.5" height="38" fill="url(#vg)"/>
<text x="209.5" y="272.1" font-size="6.7" textLength="50" lengthAdjust="spacingAndGlyphs">1.0 (most correct)</text>
<text x="209.5" y="280.55" font-size="6.7" textLength="8.8" lengthAdjust="spacingAndGlyphs">0.9</text>
<text x="209.5" y="289.0" font-size="6.7" textLength="8.8" lengthAdjust="spacingAndGlyphs">0.8</text>
<text x="209.5" y="297.45" font-size="6.7" textLength="8.8" lengthAdjust="spacingAndGlyphs">0.7</text>
<text x="209.5" y="305.9" font-size="6.7" textLength="8.8" lengthAdjust="spacingAndGlyphs">0.6</text>
<text x="252" y="257.6" font-size="10.8" font-weight="bold" textLength="8" lengthAdjust="spacingAndGlyphs" fill="#000" stroke="#000" stroke-width="0.2">C</text>
<rect x="275.5" y="262" width="192" height="96" fill="#fff" stroke="#3a3a3a" stroke-width="1.1"/>
<rect x="284.2" y="268.7" width="65.85" height="38.8" fill="#c5102e"/>
<rect x="350" y="268.7" width="30.05" height="38.8" fill="#12497b"/>
<rect x="380" y="268.7" width="42.25" height="38.8" fill="#3cb54a"/>
<rect x="422.2" y="268.7" width="18.05" height="38.8" fill="#5b2a6c"/>
<rect x="440.2" y="268.7" width="6.35" height="38.8" fill="#ff9414"/>
<rect x="446.5" y="268.7" width="12.25" height="38.8" fill="#0b6851"/>
<rect x="284.2" y="312.2" width="67.35" height="39.8" fill="#c5102e"/>
<rect x="351.5" y="312.2" width="30.35" height="39.8" fill="#12497b"/>
<rect x="381.8" y="312.2" width="24.75" height="39.8" fill="#3cb54a"/>
<rect x="406.5" y="312.2" width="21.75" height="39.8" fill="#5b2a6c"/>
<rect x="428.2" y="312.2" width="6.65" height="39.8" fill="#ff9414"/>
<rect x="434.8" y="312.2" width="23.95" height="39.8" fill="#0b6851"/>
<text x="252.4" y="286.5" font-size="6.7" textLength="12.3" lengthAdjust="spacingAndGlyphs">Best</text>
<text x="272.3" y="293.6" font-size="6.7" text-anchor="end" textLength="27.5" lengthAdjust="spacingAndGlyphs">predictors</text>
<text x="256.8" y="334.6" font-size="6.7" textLength="7.7" lengthAdjust="spacingAndGlyphs">AS</text>
<line x1="272.4" y1="288" x2="275.5" y2="288" stroke="#1c1c1c" stroke-width="0.95"/>
<line x1="272.4" y1="332.2" x2="275.5" y2="332.2" stroke="#1c1c1c" stroke-width="0.95"/>
<line x1="283.8" y1="358" x2="283.8" y2="360.4" stroke="#1c1c1c" stroke-width="0.95"/>
<text x="280.55" y="369" font-size="7.9" textLength="4.3" lengthAdjust="spacingAndGlyphs" fill="#1c1c1c" stroke="#1c1c1c" stroke-width="0.18">0</text>
<line x1="327.5" y1="358" x2="327.5" y2="360.4" stroke="#1c1c1c" stroke-width="0.95"/>
<text x="323.2" y="369" font-size="7.9" textLength="8.0" lengthAdjust="spacingAndGlyphs" fill="#1c1c1c" stroke="#1c1c1c" stroke-width="0.18">25</text>
<line x1="371.2" y1="358" x2="371.2" y2="360.4" stroke="#1c1c1c" stroke-width="0.95"/>
<text x="366.9" y="369" font-size="7.9" textLength="8.0" lengthAdjust="spacingAndGlyphs" fill="#1c1c1c" stroke="#1c1c1c" stroke-width="0.18">50</text>
<line x1="414.9" y1="358" x2="414.9" y2="360.4" stroke="#1c1c1c" stroke-width="0.95"/>
<text x="410.6" y="369" font-size="7.9" textLength="8.0" lengthAdjust="spacingAndGlyphs" fill="#1c1c1c" stroke="#1c1c1c" stroke-width="0.18">75</text>
<line x1="458.6" y1="358" x2="458.6" y2="360.4" stroke="#1c1c1c" stroke-width="0.95"/>
<text x="453.55" y="369" font-size="7.9" textLength="11.7" lengthAdjust="spacingAndGlyphs" fill="#1c1c1c" stroke="#1c1c1c" stroke-width="0.18">100</text>
<text x="353" y="377.6" font-size="9.6" textLength="34" lengthAdjust="spacingAndGlyphs">Genes (%)</text>
<text x="472" y="265.6" font-size="6.6" textLength="23.6" lengthAdjust="spacingAndGlyphs">Location</text>
<rect x="472.05" y="267.92" width="4.75" height="4.7" fill="#c5102e"/>
<text x="478.7" y="272.57" font-size="6.6" textLength="31" lengthAdjust="spacingAndGlyphs">Membrane</text>
<rect x="472.05" y="273.62" width="4.75" height="4.7" fill="#12497b"/>
<text x="478.7" y="278.27" font-size="6.6" textLength="30.5" lengthAdjust="spacingAndGlyphs">Cytoplasm</text>
<rect x="472.05" y="279.32" width="4.75" height="4.7" fill="#3cb54a"/>
<text x="478.7" y="283.97" font-size="6.6" textLength="22.5" lengthAdjust="spacingAndGlyphs">Nucleus</text>
<rect x="472.05" y="285.02" width="4.75" height="4.7" fill="#5b2a6c"/>
<text x="478.7" y="289.67" font-size="6.6" textLength="22" lengthAdjust="spacingAndGlyphs">Extracel</text>
<rect x="472.05" y="290.72" width="4.75" height="4.7" fill="#ff9414"/>
<text x="478.7" y="295.37" font-size="6.6" textLength="7.5" lengthAdjust="spacingAndGlyphs">ER</text>
<rect x="472.05" y="296.42" width="4.75" height="4.7" fill="#0b6851"/>
<text x="478.7" y="301.07" font-size="6.6" textLength="16.5" lengthAdjust="spacingAndGlyphs">Other</text>
<path d="M243.8 287.6H237.5V416.8H246" fill="none" stroke="#000" stroke-width="1"/>
<path d="M250.3 416.8L245 414.3L245 419.3Z" fill="#000"/>
<text x="265" y="403.2" font-size="7.4" font-style="italic" textLength="27.5" lengthAdjust="spacingAndGlyphs" fill="#000" stroke="#000" stroke-width="0.15">Aldh1a1</text>
<text x="265" y="412.9" font-size="7.4" font-style="italic" textLength="22.5" lengthAdjust="spacingAndGlyphs" fill="#000" stroke="#000" stroke-width="0.15">Clec1a</text>
<text x="265" y="422.7" font-size="7.4" font-style="italic" textLength="20" lengthAdjust="spacingAndGlyphs" fill="#000" stroke="#000" stroke-width="0.15">Dhrs3</text>
<text x="265" y="432.7" font-size="7.4" font-style="italic" textLength="27.5" lengthAdjust="spacingAndGlyphs" fill="#000" stroke="#000" stroke-width="0.15">Dnmt3b</text>
<text x="308.7" y="403.2" font-size="7.4" font-style="italic" textLength="24.2" lengthAdjust="spacingAndGlyphs" fill="#000" stroke="#000" stroke-width="0.15">Exoc6b</text>
<text x="308.7" y="412.9" font-size="7.4" font-style="italic" textLength="12" lengthAdjust="spacingAndGlyphs" fill="#000" stroke="#000" stroke-width="0.15">Fyb</text>
<text x="308.7" y="422.7" font-size="7.4" font-style="italic" textLength="11.5" lengthAdjust="spacingAndGlyphs" fill="#000" stroke="#000" stroke-width="0.15">Jun</text>
<text x="308.7" y="432.7" font-size="7.4" font-style="italic" textLength="10" lengthAdjust="spacingAndGlyphs" fill="#000" stroke="#000" stroke-width="0.15">Lpl</text>
<text x="352.5" y="403.2" font-size="7.4" font-style="italic" textLength="15.5" lengthAdjust="spacingAndGlyphs" fill="#000" stroke="#000" stroke-width="0.15">Ly6e</text>
<text x="352.5" y="412.9" font-size="7.4" font-style="italic" textLength="20.5" lengthAdjust="spacingAndGlyphs" fill="#000" stroke="#000" stroke-width="0.15">Mcm5</text>
<text x="352.5" y="422.7" font-size="7.4" font-style="italic" textLength="20.5" lengthAdjust="spacingAndGlyphs" fill="#000" stroke="#000" stroke-width="0.15">Mef2c</text>
<text x="352.5" y="432.7" font-size="7.4" font-style="italic" textLength="33" lengthAdjust="spacingAndGlyphs" fill="#000" stroke="#000" stroke-width="0.15">Ppp1r16b</text>
<text x="396.2" y="403.2" font-size="7.4" font-style="italic" textLength="15.5" lengthAdjust="spacingAndGlyphs" fill="#000" stroke="#000" stroke-width="0.15">Prcp</text>
<text x="396.2" y="412.9" font-size="7.4" font-style="italic" textLength="17.5" lengthAdjust="spacingAndGlyphs" fill="#000" stroke="#000" stroke-width="0.15">Prtn3</text>
<text x="396.2" y="422.7" font-size="7.4" font-style="italic" textLength="23.2" lengthAdjust="spacingAndGlyphs" fill="#000" stroke="#000" stroke-width="0.15">Ramp2</text>
<text x="396.2" y="432.7" font-size="7.4" font-style="italic" textLength="14.5" lengthAdjust="spacingAndGlyphs" fill="#000" stroke="#000" stroke-width="0.15">Selp</text>
<text x="439.5" y="403.2" font-size="7.4" font-style="italic" textLength="19.5" lengthAdjust="spacingAndGlyphs" fill="#000" stroke="#000" stroke-width="0.15">Tgm2</text>
<text x="439.5" y="412.9" font-size="7.4" font-style="italic" textLength="20.5" lengthAdjust="spacingAndGlyphs" fill="#000" stroke="#000" stroke-width="0.15">Nupr1</text>
<text x="439.5" y="422.7" font-size="7.4" font-style="italic" textLength="24.2" lengthAdjust="spacingAndGlyphs" fill="#000" stroke="#000" stroke-width="0.15">Sult1a1</text>
<text x="439.5" y="432.7" font-size="7.4" font-style="italic" textLength="38.5" lengthAdjust="spacingAndGlyphs" fill="#000" stroke="#000" stroke-width="0.15">Tmem176a</text>
</svg>
</body></html>
